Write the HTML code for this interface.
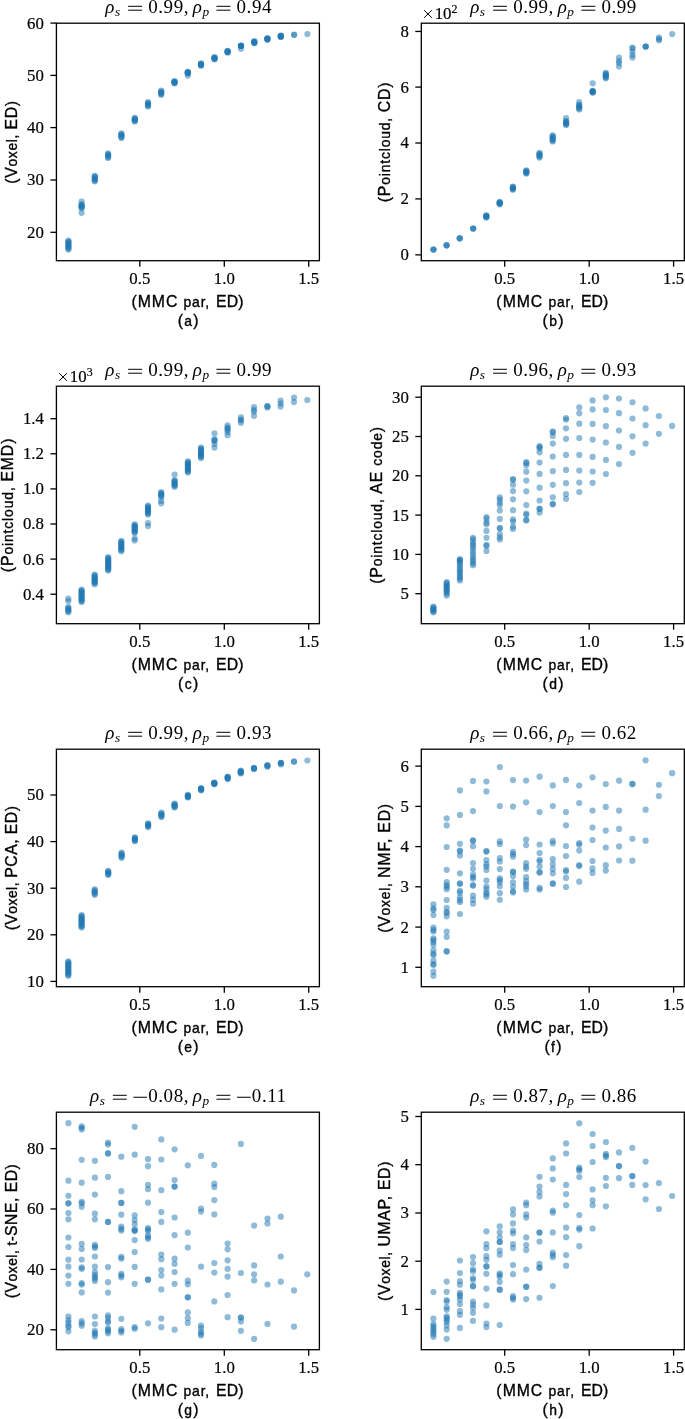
<!DOCTYPE html><html><head><meta charset="utf-8"><style>html,body{margin:0;padding:0;background:#fff;}svg{display:block;will-change:transform}.t{font-family:"Liberation Serif",serif;font-size:16.8px;fill:#000;stroke:#000;stroke-width:0.2px}.l{font-family:"Liberation Sans",sans-serif;font-size:16.5px;fill:#000;stroke:#000;stroke-width:0.35px}.ti{font-family:"Liberation Serif",serif;font-size:19.0px;fill:#000}.i{font-style:italic}</style></head><body>
<svg width="685" height="1419" viewBox="0 0 685 1419">
<rect width="685" height="1419" fill="#fff"/>
<g fill="#1f77b4" fill-opacity="0.5">
<circle cx="68.4" cy="240.6" r="3.1"/>
<circle cx="68.4" cy="241.6" r="3.1"/>
<circle cx="68.4" cy="242.6" r="3.1"/>
<circle cx="68.4" cy="243.6" r="3.1"/>
<circle cx="68.4" cy="244.6" r="3.1"/>
<circle cx="68.4" cy="245.6" r="3.1"/>
<circle cx="68.4" cy="246.6" r="3.1"/>
<circle cx="68.4" cy="247.6" r="3.1"/>
<circle cx="68.4" cy="248.6" r="3.1"/>
<circle cx="68.4" cy="249.6" r="3.1"/>
<circle cx="81.6" cy="201.5" r="3.1"/>
<circle cx="81.6" cy="204.4" r="3.1"/>
<circle cx="81.6" cy="205.1" r="3.1"/>
<circle cx="81.6" cy="205.9" r="3.1"/>
<circle cx="81.6" cy="206.6" r="3.1"/>
<circle cx="81.6" cy="207.4" r="3.1"/>
<circle cx="81.6" cy="208.1" r="3.1"/>
<circle cx="81.6" cy="212.8" r="3.1"/>
<circle cx="94.8" cy="175.8" r="3.1"/>
<circle cx="94.8" cy="176.7" r="3.1"/>
<circle cx="94.8" cy="177.6" r="3.1"/>
<circle cx="94.8" cy="178.6" r="3.1"/>
<circle cx="94.8" cy="179.5" r="3.1"/>
<circle cx="94.8" cy="180.4" r="3.1"/>
<circle cx="94.8" cy="181.3" r="3.1"/>
<circle cx="108.1" cy="153.4" r="3.1"/>
<circle cx="108.1" cy="154.3" r="3.1"/>
<circle cx="108.1" cy="155.2" r="3.1"/>
<circle cx="108.1" cy="156.1" r="3.1"/>
<circle cx="108.1" cy="157.0" r="3.1"/>
<circle cx="108.1" cy="157.9" r="3.1"/>
<circle cx="121.4" cy="133.4" r="3.1"/>
<circle cx="121.4" cy="134.3" r="3.1"/>
<circle cx="121.4" cy="135.2" r="3.1"/>
<circle cx="121.4" cy="136.2" r="3.1"/>
<circle cx="121.4" cy="137.1" r="3.1"/>
<circle cx="121.4" cy="138.0" r="3.1"/>
<circle cx="134.8" cy="117.9" r="3.1"/>
<circle cx="134.8" cy="118.6" r="3.1"/>
<circle cx="134.8" cy="119.3" r="3.1"/>
<circle cx="134.8" cy="120.0" r="3.1"/>
<circle cx="134.8" cy="120.7" r="3.1"/>
<circle cx="134.8" cy="121.4" r="3.1"/>
<circle cx="148.0" cy="102.2" r="3.1"/>
<circle cx="148.0" cy="103.1" r="3.1"/>
<circle cx="148.0" cy="103.9" r="3.1"/>
<circle cx="148.0" cy="104.8" r="3.1"/>
<circle cx="148.0" cy="105.6" r="3.1"/>
<circle cx="148.0" cy="106.5" r="3.1"/>
<circle cx="161.2" cy="90.7" r="3.1"/>
<circle cx="161.2" cy="91.5" r="3.1"/>
<circle cx="161.2" cy="92.3" r="3.1"/>
<circle cx="161.2" cy="93.2" r="3.1"/>
<circle cx="161.2" cy="94.0" r="3.1"/>
<circle cx="161.2" cy="94.8" r="3.1"/>
<circle cx="174.5" cy="81.1" r="3.1"/>
<circle cx="174.5" cy="81.5" r="3.1"/>
<circle cx="174.5" cy="82.0" r="3.1"/>
<circle cx="174.5" cy="82.4" r="3.1"/>
<circle cx="174.5" cy="82.9" r="3.1"/>
<circle cx="174.5" cy="83.3" r="3.1"/>
<circle cx="187.8" cy="71.9" r="3.1"/>
<circle cx="187.8" cy="72.2" r="3.1"/>
<circle cx="187.8" cy="72.5" r="3.1"/>
<circle cx="187.8" cy="72.7" r="3.1"/>
<circle cx="187.8" cy="73.0" r="3.1"/>
<circle cx="187.8" cy="73.3" r="3.1"/>
<circle cx="187.8" cy="75.6" r="3.1"/>
<circle cx="201.0" cy="63.4" r="3.1"/>
<circle cx="201.0" cy="63.9" r="3.1"/>
<circle cx="201.0" cy="64.3" r="3.1"/>
<circle cx="201.0" cy="64.8" r="3.1"/>
<circle cx="201.0" cy="65.2" r="3.1"/>
<circle cx="201.0" cy="65.7" r="3.1"/>
<circle cx="214.5" cy="57.1" r="3.1"/>
<circle cx="214.5" cy="57.5" r="3.1"/>
<circle cx="214.5" cy="58.0" r="3.1"/>
<circle cx="214.5" cy="58.4" r="3.1"/>
<circle cx="214.5" cy="58.9" r="3.1"/>
<circle cx="214.5" cy="59.3" r="3.1"/>
<circle cx="227.6" cy="50.9" r="3.1"/>
<circle cx="227.6" cy="51.2" r="3.1"/>
<circle cx="227.6" cy="51.5" r="3.1"/>
<circle cx="227.6" cy="51.9" r="3.1"/>
<circle cx="227.6" cy="52.2" r="3.1"/>
<circle cx="227.6" cy="52.5" r="3.1"/>
<circle cx="241.0" cy="45.8" r="3.1"/>
<circle cx="241.0" cy="45.8" r="3.1"/>
<circle cx="241.0" cy="45.8" r="3.1"/>
<circle cx="241.0" cy="45.8" r="3.1"/>
<circle cx="241.0" cy="45.8" r="3.1"/>
<circle cx="241.0" cy="45.8" r="3.1"/>
<circle cx="241.0" cy="48.8" r="3.1"/>
<circle cx="254.3" cy="41.2" r="3.1"/>
<circle cx="254.3" cy="41.6" r="3.1"/>
<circle cx="254.3" cy="42.0" r="3.1"/>
<circle cx="254.3" cy="42.4" r="3.1"/>
<circle cx="254.3" cy="42.8" r="3.1"/>
<circle cx="254.3" cy="43.2" r="3.1"/>
<circle cx="267.4" cy="38.2" r="3.1"/>
<circle cx="267.4" cy="38.5" r="3.1"/>
<circle cx="267.4" cy="38.8" r="3.1"/>
<circle cx="267.4" cy="39.1" r="3.1"/>
<circle cx="267.4" cy="39.4" r="3.1"/>
<circle cx="267.4" cy="39.7" r="3.1"/>
<circle cx="280.8" cy="35.7" r="3.1"/>
<circle cx="280.8" cy="35.9" r="3.1"/>
<circle cx="280.8" cy="36.2" r="3.1"/>
<circle cx="280.8" cy="36.4" r="3.1"/>
<circle cx="280.8" cy="36.7" r="3.1"/>
<circle cx="280.8" cy="36.9" r="3.1"/>
<circle cx="294.1" cy="34.6" r="3.1"/>
<circle cx="294.1" cy="35.0" r="3.1"/>
<circle cx="307.4" cy="34.1" r="3.1"/>
</g>
<rect x="56.40" y="23.20" width="263.00" height="237.50" fill="none" stroke="#000" stroke-width="1.3"/>
<line x1="139.80" y1="260.70" x2="139.80" y2="266.70" stroke="#000" stroke-width="1.3"/>
<text class="t" x="139.80" y="284.20" text-anchor="middle">0.5</text>
<line x1="224.30" y1="260.70" x2="224.30" y2="266.70" stroke="#000" stroke-width="1.3"/>
<text class="t" x="224.30" y="284.20" text-anchor="middle">1.0</text>
<line x1="308.70" y1="260.70" x2="308.70" y2="266.70" stroke="#000" stroke-width="1.3"/>
<text class="t" x="308.70" y="284.20" text-anchor="middle">1.5</text>
<line x1="50.40" y1="232.30" x2="56.40" y2="232.30" stroke="#000" stroke-width="1.3"/>
<text class="t" x="43.90" y="237.70" text-anchor="end">20</text>
<line x1="50.40" y1="180.00" x2="56.40" y2="180.00" stroke="#000" stroke-width="1.3"/>
<text class="t" x="43.90" y="185.40" text-anchor="end">30</text>
<line x1="50.40" y1="127.60" x2="56.40" y2="127.60" stroke="#000" stroke-width="1.3"/>
<text class="t" x="43.90" y="133.00" text-anchor="end">40</text>
<line x1="50.40" y1="75.40" x2="56.40" y2="75.40" stroke="#000" stroke-width="1.3"/>
<text class="t" x="43.90" y="80.80" text-anchor="end">50</text>
<line x1="50.40" y1="23.10" x2="56.40" y2="23.10" stroke="#000" stroke-width="1.3"/>
<text class="t" x="43.90" y="28.50" text-anchor="end">60</text>
<text class="l" y="306.60"><tspan x="131.40" style="font-size:15.8px">(</tspan><tspan x="137.80" style="font-size:15.8px" letter-spacing="0.9">MMC</tspan><tspan x="183.60" style="font-size:13.9px" letter-spacing="0.8">par,</tspan><tspan x="216.00" style="font-size:15.8px" letter-spacing="0.1">ED)</tspan></text>
<text class="l" x="188.80" y="325.60" text-anchor="middle" letter-spacing="1.3"><tspan style="font-size:15.8px">(</tspan><tspan style="font-size:13.9px">a</tspan><tspan style="font-size:15.8px">)</tspan></text>
<text class="l" transform="translate(12.00,141.95) rotate(-90)" x="0" y="5.2" text-anchor="middle" letter-spacing="0.66"><tspan style="font-size:15.8px">(V</tspan><tspan style="font-size:13.9px">oxel, </tspan><tspan style="font-size:15.8px">ED)</tspan></text>
<text class="ti i" x="105.25" y="13.30">ρ</text><text class="ti i" style="font-size:13.3px" x="114.95" y="16.30">s</text><path d="M128.15 6.30H142.05M128.15 10.20H142.05" stroke="#000" stroke-width="1.0"/><text class="ti" x="148.25" y="13.30" letter-spacing="0.55">0.99,</text><text class="ti i" x="192.75" y="13.30">ρ</text><text class="ti i" style="font-size:13.3px" x="202.45" y="16.30">p</text><path d="M216.45 6.30H230.35M216.45 10.20H230.35" stroke="#000" stroke-width="1.0"/><text class="ti" x="236.55" y="13.30" letter-spacing="0.55">0.94</text>
<g fill="#1f77b4" fill-opacity="0.5">
<circle cx="433.5" cy="249.5" r="3.1"/>
<circle cx="433.5" cy="249.5" r="3.1"/>
<circle cx="433.5" cy="249.5" r="3.1"/>
<circle cx="446.6" cy="245.3" r="3.1"/>
<circle cx="446.6" cy="245.3" r="3.1"/>
<circle cx="446.6" cy="245.3" r="3.1"/>
<circle cx="459.7" cy="238.3" r="3.1"/>
<circle cx="459.7" cy="238.3" r="3.1"/>
<circle cx="459.7" cy="238.3" r="3.1"/>
<circle cx="473.2" cy="228.5" r="3.1"/>
<circle cx="473.2" cy="228.5" r="3.1"/>
<circle cx="473.2" cy="228.5" r="3.1"/>
<circle cx="486.3" cy="215.4" r="3.1"/>
<circle cx="486.3" cy="215.8" r="3.1"/>
<circle cx="486.3" cy="216.2" r="3.1"/>
<circle cx="486.3" cy="216.7" r="3.1"/>
<circle cx="486.3" cy="217.1" r="3.1"/>
<circle cx="486.3" cy="217.5" r="3.1"/>
<circle cx="499.7" cy="201.8" r="3.1"/>
<circle cx="499.7" cy="202.3" r="3.1"/>
<circle cx="499.7" cy="202.8" r="3.1"/>
<circle cx="499.7" cy="203.3" r="3.1"/>
<circle cx="499.7" cy="203.8" r="3.1"/>
<circle cx="499.7" cy="204.3" r="3.1"/>
<circle cx="512.9" cy="186.6" r="3.1"/>
<circle cx="512.9" cy="187.2" r="3.1"/>
<circle cx="512.9" cy="187.8" r="3.1"/>
<circle cx="512.9" cy="188.5" r="3.1"/>
<circle cx="512.9" cy="189.1" r="3.1"/>
<circle cx="512.9" cy="189.7" r="3.1"/>
<circle cx="526.3" cy="170.3" r="3.1"/>
<circle cx="526.3" cy="171.0" r="3.1"/>
<circle cx="526.3" cy="171.6" r="3.1"/>
<circle cx="526.3" cy="172.3" r="3.1"/>
<circle cx="526.3" cy="172.9" r="3.1"/>
<circle cx="526.3" cy="173.6" r="3.1"/>
<circle cx="539.5" cy="152.8" r="3.1"/>
<circle cx="539.5" cy="153.8" r="3.1"/>
<circle cx="539.5" cy="154.7" r="3.1"/>
<circle cx="539.5" cy="155.7" r="3.1"/>
<circle cx="539.5" cy="156.6" r="3.1"/>
<circle cx="539.5" cy="157.6" r="3.1"/>
<circle cx="552.7" cy="135.3" r="3.1"/>
<circle cx="552.7" cy="136.3" r="3.1"/>
<circle cx="552.7" cy="137.4" r="3.1"/>
<circle cx="552.7" cy="138.4" r="3.1"/>
<circle cx="552.7" cy="139.4" r="3.1"/>
<circle cx="552.7" cy="140.5" r="3.1"/>
<circle cx="552.7" cy="141.5" r="3.1"/>
<circle cx="566.1" cy="118.1" r="3.1"/>
<circle cx="566.1" cy="121.1" r="3.1"/>
<circle cx="566.1" cy="121.9" r="3.1"/>
<circle cx="566.1" cy="122.7" r="3.1"/>
<circle cx="566.1" cy="123.4" r="3.1"/>
<circle cx="566.1" cy="124.2" r="3.1"/>
<circle cx="566.1" cy="125.0" r="3.1"/>
<circle cx="579.2" cy="102.0" r="3.1"/>
<circle cx="579.2" cy="104.6" r="3.1"/>
<circle cx="579.2" cy="105.6" r="3.1"/>
<circle cx="579.2" cy="106.5" r="3.1"/>
<circle cx="579.2" cy="107.5" r="3.1"/>
<circle cx="579.2" cy="108.4" r="3.1"/>
<circle cx="579.2" cy="109.4" r="3.1"/>
<circle cx="592.7" cy="83.3" r="3.1"/>
<circle cx="592.7" cy="90.8" r="3.1"/>
<circle cx="592.7" cy="91.2" r="3.1"/>
<circle cx="592.7" cy="91.5" r="3.1"/>
<circle cx="592.7" cy="91.9" r="3.1"/>
<circle cx="592.7" cy="92.2" r="3.1"/>
<circle cx="592.7" cy="92.6" r="3.1"/>
<circle cx="605.8" cy="72.8" r="3.1"/>
<circle cx="605.8" cy="73.7" r="3.1"/>
<circle cx="605.8" cy="74.6" r="3.1"/>
<circle cx="605.8" cy="75.6" r="3.1"/>
<circle cx="605.8" cy="76.5" r="3.1"/>
<circle cx="605.8" cy="77.4" r="3.1"/>
<circle cx="605.8" cy="78.3" r="3.1"/>
<circle cx="619.0" cy="57.5" r="3.1"/>
<circle cx="619.0" cy="61.0" r="3.1"/>
<circle cx="619.0" cy="63.0" r="3.1"/>
<circle cx="619.0" cy="66.5" r="3.1"/>
<circle cx="632.5" cy="47.5" r="3.1"/>
<circle cx="632.5" cy="48.5" r="3.1"/>
<circle cx="632.5" cy="51.8" r="3.1"/>
<circle cx="632.5" cy="55.0" r="3.1"/>
<circle cx="632.5" cy="57.6" r="3.1"/>
<circle cx="645.7" cy="46.5" r="3.1"/>
<circle cx="645.7" cy="46.5" r="3.1"/>
<circle cx="645.7" cy="46.5" r="3.1"/>
<circle cx="659.0" cy="37.5" r="3.1"/>
<circle cx="659.0" cy="39.0" r="3.1"/>
<circle cx="659.0" cy="40.3" r="3.1"/>
<circle cx="672.2" cy="34.1" r="3.1"/>
</g>
<rect x="421.30" y="23.20" width="263.00" height="237.50" fill="none" stroke="#000" stroke-width="1.3"/>
<line x1="504.70" y1="260.70" x2="504.70" y2="266.70" stroke="#000" stroke-width="1.3"/>
<text class="t" x="504.70" y="284.20" text-anchor="middle">0.5</text>
<line x1="589.20" y1="260.70" x2="589.20" y2="266.70" stroke="#000" stroke-width="1.3"/>
<text class="t" x="589.20" y="284.20" text-anchor="middle">1.0</text>
<line x1="673.60" y1="260.70" x2="673.60" y2="266.70" stroke="#000" stroke-width="1.3"/>
<text class="t" x="673.60" y="284.20" text-anchor="middle">1.5</text>
<line x1="415.30" y1="254.85" x2="421.30" y2="254.85" stroke="#000" stroke-width="1.3"/>
<text class="t" x="408.80" y="260.25" text-anchor="end">0</text>
<line x1="415.30" y1="198.90" x2="421.30" y2="198.90" stroke="#000" stroke-width="1.3"/>
<text class="t" x="408.80" y="204.30" text-anchor="end">2</text>
<line x1="415.30" y1="143.00" x2="421.30" y2="143.00" stroke="#000" stroke-width="1.3"/>
<text class="t" x="408.80" y="148.40" text-anchor="end">4</text>
<line x1="415.30" y1="87.10" x2="421.30" y2="87.10" stroke="#000" stroke-width="1.3"/>
<text class="t" x="408.80" y="92.50" text-anchor="end">6</text>
<line x1="415.30" y1="31.45" x2="421.30" y2="31.45" stroke="#000" stroke-width="1.3"/>
<text class="t" x="408.80" y="36.85" text-anchor="end">8</text>
<text class="l" y="306.60"><tspan x="496.30" style="font-size:15.8px">(</tspan><tspan x="502.70" style="font-size:15.8px" letter-spacing="0.9">MMC</tspan><tspan x="548.50" style="font-size:13.9px" letter-spacing="0.8">par,</tspan><tspan x="580.90" style="font-size:15.8px" letter-spacing="0.1">ED)</tspan></text>
<text class="l" x="553.70" y="325.60" text-anchor="middle" letter-spacing="1.3"><tspan style="font-size:15.8px">(</tspan><tspan style="font-size:13.9px">b</tspan><tspan style="font-size:15.8px">)</tspan></text>
<text class="l" transform="translate(384.60,141.95) rotate(-90)" x="0" y="5.2" text-anchor="middle" letter-spacing="0.84"><tspan style="font-size:15.8px">(P</tspan><tspan style="font-size:13.9px">ointcloud, </tspan><tspan style="font-size:15.8px">CD)</tspan></text>
<text class="ti i" x="470.15" y="13.30">ρ</text><text class="ti i" style="font-size:13.3px" x="479.85" y="16.30">s</text><path d="M493.05 6.30H506.95M493.05 10.20H506.95" stroke="#000" stroke-width="1.0"/><text class="ti" x="513.15" y="13.30" letter-spacing="0.55">0.99,</text><text class="ti i" x="557.65" y="13.30">ρ</text><text class="ti i" style="font-size:13.3px" x="567.35" y="16.30">p</text><path d="M581.35 6.30H595.25M581.35 10.20H595.25" stroke="#000" stroke-width="1.0"/><text class="ti" x="601.45" y="13.30" letter-spacing="0.55">0.99</text>
<path d="M424.10 10.20L431.80 17.80M431.80 10.20L424.10 17.80" stroke="#000" stroke-width="1.0" fill="none"/>
<text class="t" x="434.70" y="18.60">10</text>
<text class="t" style="font-size:12px" x="451.60" y="12.60">2</text>
<g fill="#1f77b4" fill-opacity="0.5">
<circle cx="68.3" cy="598.7" r="3.1"/>
<circle cx="68.3" cy="601.0" r="3.1"/>
<circle cx="68.3" cy="607.1" r="3.1"/>
<circle cx="68.3" cy="608.1" r="3.1"/>
<circle cx="68.3" cy="609.1" r="3.1"/>
<circle cx="68.3" cy="610.2" r="3.1"/>
<circle cx="68.3" cy="611.2" r="3.1"/>
<circle cx="68.3" cy="612.2" r="3.1"/>
<circle cx="81.6" cy="589.5" r="3.1"/>
<circle cx="81.6" cy="590.5" r="3.1"/>
<circle cx="81.6" cy="591.6" r="3.1"/>
<circle cx="81.6" cy="592.6" r="3.1"/>
<circle cx="81.6" cy="593.7" r="3.1"/>
<circle cx="81.6" cy="594.7" r="3.1"/>
<circle cx="81.6" cy="595.8" r="3.1"/>
<circle cx="81.6" cy="596.8" r="3.1"/>
<circle cx="81.6" cy="597.8" r="3.1"/>
<circle cx="81.6" cy="598.9" r="3.1"/>
<circle cx="81.6" cy="599.9" r="3.1"/>
<circle cx="81.6" cy="601.0" r="3.1"/>
<circle cx="81.6" cy="602.0" r="3.1"/>
<circle cx="94.7" cy="574.6" r="3.1"/>
<circle cx="94.7" cy="575.6" r="3.1"/>
<circle cx="94.7" cy="576.5" r="3.1"/>
<circle cx="94.7" cy="577.5" r="3.1"/>
<circle cx="94.7" cy="578.4" r="3.1"/>
<circle cx="94.7" cy="579.4" r="3.1"/>
<circle cx="94.7" cy="580.4" r="3.1"/>
<circle cx="94.7" cy="581.3" r="3.1"/>
<circle cx="94.7" cy="582.3" r="3.1"/>
<circle cx="94.7" cy="583.2" r="3.1"/>
<circle cx="94.7" cy="584.2" r="3.1"/>
<circle cx="108.2" cy="557.1" r="3.1"/>
<circle cx="108.2" cy="558.1" r="3.1"/>
<circle cx="108.2" cy="559.0" r="3.1"/>
<circle cx="108.2" cy="560.0" r="3.1"/>
<circle cx="108.2" cy="561.0" r="3.1"/>
<circle cx="108.2" cy="561.9" r="3.1"/>
<circle cx="108.2" cy="562.9" r="3.1"/>
<circle cx="108.2" cy="563.9" r="3.1"/>
<circle cx="108.2" cy="564.8" r="3.1"/>
<circle cx="108.2" cy="565.8" r="3.1"/>
<circle cx="108.2" cy="566.7" r="3.1"/>
<circle cx="108.2" cy="567.7" r="3.1"/>
<circle cx="108.2" cy="568.7" r="3.1"/>
<circle cx="108.2" cy="569.6" r="3.1"/>
<circle cx="108.2" cy="570.6" r="3.1"/>
<circle cx="121.3" cy="540.8" r="3.1"/>
<circle cx="121.3" cy="541.8" r="3.1"/>
<circle cx="121.3" cy="542.9" r="3.1"/>
<circle cx="121.3" cy="543.9" r="3.1"/>
<circle cx="121.3" cy="545.0" r="3.1"/>
<circle cx="121.3" cy="546.0" r="3.1"/>
<circle cx="121.3" cy="547.0" r="3.1"/>
<circle cx="121.3" cy="548.1" r="3.1"/>
<circle cx="121.3" cy="549.1" r="3.1"/>
<circle cx="121.3" cy="550.2" r="3.1"/>
<circle cx="121.3" cy="551.2" r="3.1"/>
<circle cx="134.7" cy="524.3" r="3.1"/>
<circle cx="134.7" cy="525.3" r="3.1"/>
<circle cx="134.7" cy="526.2" r="3.1"/>
<circle cx="134.7" cy="527.2" r="3.1"/>
<circle cx="134.7" cy="528.1" r="3.1"/>
<circle cx="134.7" cy="529.1" r="3.1"/>
<circle cx="134.7" cy="530.0" r="3.1"/>
<circle cx="134.7" cy="531.0" r="3.1"/>
<circle cx="134.7" cy="531.9" r="3.1"/>
<circle cx="134.7" cy="532.9" r="3.1"/>
<circle cx="134.7" cy="538.5" r="3.1"/>
<circle cx="134.7" cy="540.4" r="3.1"/>
<circle cx="148.0" cy="505.6" r="3.1"/>
<circle cx="148.0" cy="506.6" r="3.1"/>
<circle cx="148.0" cy="507.6" r="3.1"/>
<circle cx="148.0" cy="508.5" r="3.1"/>
<circle cx="148.0" cy="509.5" r="3.1"/>
<circle cx="148.0" cy="510.5" r="3.1"/>
<circle cx="148.0" cy="511.5" r="3.1"/>
<circle cx="148.0" cy="512.4" r="3.1"/>
<circle cx="148.0" cy="513.4" r="3.1"/>
<circle cx="148.0" cy="514.4" r="3.1"/>
<circle cx="148.0" cy="523.0" r="3.1"/>
<circle cx="148.0" cy="526.1" r="3.1"/>
<circle cx="161.2" cy="492.0" r="3.1"/>
<circle cx="161.2" cy="493.0" r="3.1"/>
<circle cx="161.2" cy="494.0" r="3.1"/>
<circle cx="161.2" cy="494.9" r="3.1"/>
<circle cx="161.2" cy="495.9" r="3.1"/>
<circle cx="161.2" cy="496.9" r="3.1"/>
<circle cx="161.2" cy="501.0" r="3.1"/>
<circle cx="161.2" cy="503.3" r="3.1"/>
<circle cx="174.6" cy="474.5" r="3.1"/>
<circle cx="174.6" cy="480.0" r="3.1"/>
<circle cx="174.6" cy="481.0" r="3.1"/>
<circle cx="174.6" cy="481.9" r="3.1"/>
<circle cx="174.6" cy="482.9" r="3.1"/>
<circle cx="174.6" cy="483.8" r="3.1"/>
<circle cx="174.6" cy="484.8" r="3.1"/>
<circle cx="174.6" cy="485.7" r="3.1"/>
<circle cx="174.6" cy="486.7" r="3.1"/>
<circle cx="187.9" cy="461.3" r="3.1"/>
<circle cx="187.9" cy="462.3" r="3.1"/>
<circle cx="187.9" cy="463.3" r="3.1"/>
<circle cx="187.9" cy="464.3" r="3.1"/>
<circle cx="187.9" cy="465.3" r="3.1"/>
<circle cx="187.9" cy="466.3" r="3.1"/>
<circle cx="187.9" cy="467.4" r="3.1"/>
<circle cx="187.9" cy="468.4" r="3.1"/>
<circle cx="187.9" cy="469.4" r="3.1"/>
<circle cx="187.9" cy="470.4" r="3.1"/>
<circle cx="187.9" cy="471.4" r="3.1"/>
<circle cx="187.9" cy="472.4" r="3.1"/>
<circle cx="201.0" cy="447.6" r="3.1"/>
<circle cx="201.0" cy="448.7" r="3.1"/>
<circle cx="201.0" cy="449.7" r="3.1"/>
<circle cx="201.0" cy="450.8" r="3.1"/>
<circle cx="201.0" cy="451.8" r="3.1"/>
<circle cx="201.0" cy="452.9" r="3.1"/>
<circle cx="201.0" cy="453.9" r="3.1"/>
<circle cx="201.0" cy="454.9" r="3.1"/>
<circle cx="201.0" cy="456.0" r="3.1"/>
<circle cx="201.0" cy="457.0" r="3.1"/>
<circle cx="201.0" cy="458.1" r="3.1"/>
<circle cx="214.5" cy="433.3" r="3.1"/>
<circle cx="214.5" cy="439.1" r="3.1"/>
<circle cx="214.5" cy="440.1" r="3.1"/>
<circle cx="214.5" cy="441.0" r="3.1"/>
<circle cx="214.5" cy="444.0" r="3.1"/>
<circle cx="214.5" cy="447.6" r="3.1"/>
<circle cx="227.6" cy="425.3" r="3.1"/>
<circle cx="227.6" cy="427.5" r="3.1"/>
<circle cx="227.6" cy="428.7" r="3.1"/>
<circle cx="227.6" cy="429.9" r="3.1"/>
<circle cx="227.6" cy="432.0" r="3.1"/>
<circle cx="227.6" cy="435.2" r="3.1"/>
<circle cx="240.9" cy="417.3" r="3.1"/>
<circle cx="240.9" cy="419.5" r="3.1"/>
<circle cx="240.9" cy="420.5" r="3.1"/>
<circle cx="240.9" cy="422.8" r="3.1"/>
<circle cx="254.0" cy="407.1" r="3.1"/>
<circle cx="254.0" cy="410.0" r="3.1"/>
<circle cx="254.0" cy="411.5" r="3.1"/>
<circle cx="254.0" cy="415.8" r="3.1"/>
<circle cx="267.4" cy="405.8" r="3.1"/>
<circle cx="267.4" cy="406.6" r="3.1"/>
<circle cx="267.4" cy="407.4" r="3.1"/>
<circle cx="280.6" cy="400.5" r="3.1"/>
<circle cx="280.6" cy="403.5" r="3.1"/>
<circle cx="280.6" cy="406.4" r="3.1"/>
<circle cx="294.0" cy="397.6" r="3.1"/>
<circle cx="294.0" cy="402.0" r="3.1"/>
<circle cx="307.3" cy="400.0" r="3.1"/>
</g>
<rect x="56.40" y="386.20" width="263.00" height="237.50" fill="none" stroke="#000" stroke-width="1.3"/>
<line x1="139.80" y1="623.70" x2="139.80" y2="629.70" stroke="#000" stroke-width="1.3"/>
<text class="t" x="139.80" y="647.20" text-anchor="middle">0.5</text>
<line x1="224.30" y1="623.70" x2="224.30" y2="629.70" stroke="#000" stroke-width="1.3"/>
<text class="t" x="224.30" y="647.20" text-anchor="middle">1.0</text>
<line x1="308.70" y1="623.70" x2="308.70" y2="629.70" stroke="#000" stroke-width="1.3"/>
<text class="t" x="308.70" y="647.20" text-anchor="middle">1.5</text>
<line x1="50.40" y1="594.20" x2="56.40" y2="594.20" stroke="#000" stroke-width="1.3"/>
<text class="t" x="43.90" y="599.60" text-anchor="end">0.4</text>
<line x1="50.40" y1="559.10" x2="56.40" y2="559.10" stroke="#000" stroke-width="1.3"/>
<text class="t" x="43.90" y="564.50" text-anchor="end">0.6</text>
<line x1="50.40" y1="524.00" x2="56.40" y2="524.00" stroke="#000" stroke-width="1.3"/>
<text class="t" x="43.90" y="529.40" text-anchor="end">0.8</text>
<line x1="50.40" y1="488.90" x2="56.40" y2="488.90" stroke="#000" stroke-width="1.3"/>
<text class="t" x="43.90" y="494.30" text-anchor="end">1.0</text>
<line x1="50.40" y1="453.80" x2="56.40" y2="453.80" stroke="#000" stroke-width="1.3"/>
<text class="t" x="43.90" y="459.20" text-anchor="end">1.2</text>
<line x1="50.40" y1="418.70" x2="56.40" y2="418.70" stroke="#000" stroke-width="1.3"/>
<text class="t" x="43.90" y="424.10" text-anchor="end">1.4</text>
<text class="l" y="669.60"><tspan x="131.40" style="font-size:15.8px">(</tspan><tspan x="137.80" style="font-size:15.8px" letter-spacing="0.9">MMC</tspan><tspan x="183.60" style="font-size:13.9px" letter-spacing="0.8">par,</tspan><tspan x="216.00" style="font-size:15.8px" letter-spacing="0.1">ED)</tspan></text>
<text class="l" x="188.80" y="688.60" text-anchor="middle" letter-spacing="1.3"><tspan style="font-size:15.8px">(</tspan><tspan style="font-size:13.9px">c</tspan><tspan style="font-size:15.8px">)</tspan></text>
<text class="l" transform="translate(8.10,504.95) rotate(-90)" x="0" y="5.2" text-anchor="middle" letter-spacing="0.88"><tspan style="font-size:15.8px">(P</tspan><tspan style="font-size:13.9px">ointcloud, </tspan><tspan style="font-size:15.8px">EMD)</tspan></text>
<text class="ti i" x="105.25" y="376.30">ρ</text><text class="ti i" style="font-size:13.3px" x="114.95" y="379.30">s</text><path d="M128.15 369.30H142.05M128.15 373.20H142.05" stroke="#000" stroke-width="1.0"/><text class="ti" x="148.25" y="376.30" letter-spacing="0.55">0.99,</text><text class="ti i" x="192.75" y="376.30">ρ</text><text class="ti i" style="font-size:13.3px" x="202.45" y="379.30">p</text><path d="M216.45 369.30H230.35M216.45 373.20H230.35" stroke="#000" stroke-width="1.0"/><text class="ti" x="236.55" y="376.30" letter-spacing="0.55">0.99</text>
<path d="M59.20 373.20L66.90 380.80M66.90 373.20L59.20 380.80" stroke="#000" stroke-width="1.0" fill="none"/>
<text class="t" x="69.80" y="381.60">10</text>
<text class="t" style="font-size:12px" x="86.70" y="375.60">3</text>
<g fill="#1f77b4" fill-opacity="0.5">
<circle cx="433.4" cy="606.7" r="3.1"/>
<circle cx="433.4" cy="607.7" r="3.1"/>
<circle cx="433.4" cy="608.6" r="3.1"/>
<circle cx="433.4" cy="609.6" r="3.1"/>
<circle cx="433.4" cy="610.5" r="3.1"/>
<circle cx="433.4" cy="611.4" r="3.1"/>
<circle cx="433.4" cy="612.3" r="3.1"/>
<circle cx="446.7" cy="582.0" r="3.1"/>
<circle cx="446.7" cy="583.2" r="3.1"/>
<circle cx="446.7" cy="584.5" r="3.1"/>
<circle cx="446.7" cy="585.8" r="3.1"/>
<circle cx="446.7" cy="587.0" r="3.1"/>
<circle cx="446.7" cy="588.2" r="3.1"/>
<circle cx="446.7" cy="589.5" r="3.1"/>
<circle cx="446.7" cy="590.8" r="3.1"/>
<circle cx="446.7" cy="592.0" r="3.1"/>
<circle cx="446.7" cy="593.6" r="3.1"/>
<circle cx="446.7" cy="595.4" r="3.1"/>
<circle cx="459.9" cy="565.5" r="3.1"/>
<circle cx="459.9" cy="569.5" r="3.1"/>
<circle cx="459.9" cy="573.0" r="3.1"/>
<circle cx="459.9" cy="577.0" r="3.1"/>
<circle cx="459.9" cy="559.0" r="3.1"/>
<circle cx="459.9" cy="560.0" r="3.1"/>
<circle cx="459.9" cy="560.5" r="3.1"/>
<circle cx="459.9" cy="561.8" r="3.1"/>
<circle cx="459.9" cy="563.4" r="3.1"/>
<circle cx="459.9" cy="567.8" r="3.1"/>
<circle cx="459.9" cy="571.4" r="3.1"/>
<circle cx="459.9" cy="575.1" r="3.1"/>
<circle cx="459.9" cy="578.7" r="3.1"/>
<circle cx="459.9" cy="580.5" r="3.1"/>
<circle cx="473.0" cy="542.0" r="3.1"/>
<circle cx="473.0" cy="548.5" r="3.1"/>
<circle cx="473.0" cy="554.0" r="3.1"/>
<circle cx="473.0" cy="559.0" r="3.1"/>
<circle cx="473.0" cy="537.8" r="3.1"/>
<circle cx="473.0" cy="539.3" r="3.1"/>
<circle cx="473.0" cy="544.4" r="3.1"/>
<circle cx="473.0" cy="545.9" r="3.1"/>
<circle cx="473.0" cy="551.4" r="3.1"/>
<circle cx="473.0" cy="556.8" r="3.1"/>
<circle cx="473.0" cy="561.2" r="3.1"/>
<circle cx="473.0" cy="563.4" r="3.1"/>
<circle cx="473.0" cy="565.2" r="3.1"/>
<circle cx="486.5" cy="517.0" r="3.1"/>
<circle cx="486.5" cy="518.9" r="3.1"/>
<circle cx="486.5" cy="522.5" r="3.1"/>
<circle cx="486.5" cy="524.3" r="3.1"/>
<circle cx="486.5" cy="530.9" r="3.1"/>
<circle cx="486.5" cy="537.8" r="3.1"/>
<circle cx="486.5" cy="544.8" r="3.1"/>
<circle cx="486.5" cy="545.9" r="3.1"/>
<circle cx="486.5" cy="551.0" r="3.1"/>
<circle cx="499.8" cy="497.4" r="3.1"/>
<circle cx="499.8" cy="499.5" r="3.1"/>
<circle cx="499.8" cy="502.6" r="3.1"/>
<circle cx="499.8" cy="505.1" r="3.1"/>
<circle cx="499.8" cy="510.5" r="3.1"/>
<circle cx="499.8" cy="518.9" r="3.1"/>
<circle cx="499.8" cy="527.9" r="3.1"/>
<circle cx="499.8" cy="528.5" r="3.1"/>
<circle cx="499.8" cy="534.2" r="3.1"/>
<circle cx="499.8" cy="537.3" r="3.1"/>
<circle cx="499.8" cy="539.5" r="3.1"/>
<circle cx="513.0" cy="479.0" r="3.1"/>
<circle cx="513.0" cy="479.8" r="3.1"/>
<circle cx="513.0" cy="484.7" r="3.1"/>
<circle cx="513.0" cy="491.1" r="3.1"/>
<circle cx="513.0" cy="499.3" r="3.1"/>
<circle cx="513.0" cy="510.2" r="3.1"/>
<circle cx="513.0" cy="519.4" r="3.1"/>
<circle cx="513.0" cy="521.5" r="3.1"/>
<circle cx="513.0" cy="526.6" r="3.1"/>
<circle cx="513.0" cy="528.9" r="3.1"/>
<circle cx="526.3" cy="462.2" r="3.1"/>
<circle cx="526.3" cy="463.0" r="3.1"/>
<circle cx="526.3" cy="465.3" r="3.1"/>
<circle cx="526.3" cy="471.7" r="3.1"/>
<circle cx="526.3" cy="480.6" r="3.1"/>
<circle cx="526.3" cy="491.3" r="3.1"/>
<circle cx="526.3" cy="505.1" r="3.1"/>
<circle cx="526.3" cy="513.6" r="3.1"/>
<circle cx="526.3" cy="514.8" r="3.1"/>
<circle cx="526.3" cy="519.9" r="3.1"/>
<circle cx="526.3" cy="520.5" r="3.1"/>
<circle cx="539.6" cy="446.1" r="3.1"/>
<circle cx="539.6" cy="447.0" r="3.1"/>
<circle cx="539.6" cy="448.4" r="3.1"/>
<circle cx="539.6" cy="452.3" r="3.1"/>
<circle cx="539.6" cy="462.5" r="3.1"/>
<circle cx="539.6" cy="473.9" r="3.1"/>
<circle cx="539.6" cy="487.7" r="3.1"/>
<circle cx="539.6" cy="500.5" r="3.1"/>
<circle cx="539.6" cy="508.5" r="3.1"/>
<circle cx="539.6" cy="509.0" r="3.1"/>
<circle cx="539.6" cy="512.6" r="3.1"/>
<circle cx="552.8" cy="431.6" r="3.1"/>
<circle cx="552.8" cy="432.2" r="3.1"/>
<circle cx="552.8" cy="436.0" r="3.1"/>
<circle cx="552.8" cy="443.6" r="3.1"/>
<circle cx="552.8" cy="456.6" r="3.1"/>
<circle cx="552.8" cy="471.2" r="3.1"/>
<circle cx="552.8" cy="484.8" r="3.1"/>
<circle cx="552.8" cy="497.3" r="3.1"/>
<circle cx="552.8" cy="503.9" r="3.1"/>
<circle cx="552.8" cy="504.3" r="3.1"/>
<circle cx="566.0" cy="418.1" r="3.1"/>
<circle cx="566.0" cy="419.6" r="3.1"/>
<circle cx="566.0" cy="428.3" r="3.1"/>
<circle cx="566.0" cy="438.8" r="3.1"/>
<circle cx="566.0" cy="454.9" r="3.1"/>
<circle cx="566.0" cy="469.9" r="3.1"/>
<circle cx="566.0" cy="483.2" r="3.1"/>
<circle cx="566.0" cy="494.0" r="3.1"/>
<circle cx="566.0" cy="498.8" r="3.1"/>
<circle cx="579.3" cy="407.4" r="3.1"/>
<circle cx="579.3" cy="413.3" r="3.1"/>
<circle cx="579.3" cy="423.7" r="3.1"/>
<circle cx="579.3" cy="438.0" r="3.1"/>
<circle cx="579.3" cy="454.9" r="3.1"/>
<circle cx="579.3" cy="470.5" r="3.1"/>
<circle cx="579.3" cy="482.5" r="3.1"/>
<circle cx="579.3" cy="492.0" r="3.1"/>
<circle cx="592.6" cy="400.4" r="3.1"/>
<circle cx="592.6" cy="409.4" r="3.1"/>
<circle cx="592.6" cy="423.9" r="3.1"/>
<circle cx="592.6" cy="439.6" r="3.1"/>
<circle cx="592.6" cy="456.9" r="3.1"/>
<circle cx="592.6" cy="471.5" r="3.1"/>
<circle cx="592.6" cy="482.8" r="3.1"/>
<circle cx="605.9" cy="397.3" r="3.1"/>
<circle cx="605.9" cy="410.0" r="3.1"/>
<circle cx="605.9" cy="426.2" r="3.1"/>
<circle cx="605.9" cy="442.5" r="3.1"/>
<circle cx="605.9" cy="459.9" r="3.1"/>
<circle cx="605.9" cy="474.0" r="3.1"/>
<circle cx="619.0" cy="398.5" r="3.1"/>
<circle cx="619.0" cy="413.2" r="3.1"/>
<circle cx="619.0" cy="430.5" r="3.1"/>
<circle cx="619.0" cy="446.9" r="3.1"/>
<circle cx="619.0" cy="464.1" r="3.1"/>
<circle cx="632.5" cy="402.3" r="3.1"/>
<circle cx="632.5" cy="418.5" r="3.1"/>
<circle cx="632.5" cy="436.3" r="3.1"/>
<circle cx="632.5" cy="452.8" r="3.1"/>
<circle cx="645.6" cy="408.4" r="3.1"/>
<circle cx="645.6" cy="425.2" r="3.1"/>
<circle cx="645.6" cy="443.6" r="3.1"/>
<circle cx="658.9" cy="416.0" r="3.1"/>
<circle cx="658.9" cy="433.8" r="3.1"/>
<circle cx="672.1" cy="425.9" r="3.1"/>
</g>
<rect x="421.30" y="386.20" width="263.00" height="237.50" fill="none" stroke="#000" stroke-width="1.3"/>
<line x1="504.70" y1="623.70" x2="504.70" y2="629.70" stroke="#000" stroke-width="1.3"/>
<text class="t" x="504.70" y="647.20" text-anchor="middle">0.5</text>
<line x1="589.20" y1="623.70" x2="589.20" y2="629.70" stroke="#000" stroke-width="1.3"/>
<text class="t" x="589.20" y="647.20" text-anchor="middle">1.0</text>
<line x1="673.60" y1="623.70" x2="673.60" y2="629.70" stroke="#000" stroke-width="1.3"/>
<text class="t" x="673.60" y="647.20" text-anchor="middle">1.5</text>
<line x1="415.30" y1="593.70" x2="421.30" y2="593.70" stroke="#000" stroke-width="1.3"/>
<text class="t" x="408.80" y="599.10" text-anchor="end">5</text>
<line x1="415.30" y1="554.40" x2="421.30" y2="554.40" stroke="#000" stroke-width="1.3"/>
<text class="t" x="408.80" y="559.80" text-anchor="end">10</text>
<line x1="415.30" y1="515.10" x2="421.30" y2="515.10" stroke="#000" stroke-width="1.3"/>
<text class="t" x="408.80" y="520.50" text-anchor="end">15</text>
<line x1="415.30" y1="475.80" x2="421.30" y2="475.80" stroke="#000" stroke-width="1.3"/>
<text class="t" x="408.80" y="481.20" text-anchor="end">20</text>
<line x1="415.30" y1="436.50" x2="421.30" y2="436.50" stroke="#000" stroke-width="1.3"/>
<text class="t" x="408.80" y="441.90" text-anchor="end">25</text>
<line x1="415.30" y1="397.20" x2="421.30" y2="397.20" stroke="#000" stroke-width="1.3"/>
<text class="t" x="408.80" y="402.60" text-anchor="end">30</text>
<text class="l" y="669.60"><tspan x="496.30" style="font-size:15.8px">(</tspan><tspan x="502.70" style="font-size:15.8px" letter-spacing="0.9">MMC</tspan><tspan x="548.50" style="font-size:13.9px" letter-spacing="0.8">par,</tspan><tspan x="580.90" style="font-size:15.8px" letter-spacing="0.1">ED)</tspan></text>
<text class="l" x="553.70" y="688.60" text-anchor="middle" letter-spacing="1.3"><tspan style="font-size:15.8px">(</tspan><tspan style="font-size:13.9px">d</tspan><tspan style="font-size:15.8px">)</tspan></text>
<text class="l" transform="translate(376.60,504.95) rotate(-90)" x="0" y="5.2" text-anchor="middle" letter-spacing="0.85"><tspan style="font-size:15.8px">(P</tspan><tspan style="font-size:13.9px">ointcloud, </tspan><tspan style="font-size:15.8px">AE </tspan><tspan style="font-size:13.9px">code</tspan><tspan style="font-size:15.8px">)</tspan></text>
<text class="ti i" x="470.15" y="376.30">ρ</text><text class="ti i" style="font-size:13.3px" x="479.85" y="379.30">s</text><path d="M493.05 369.30H506.95M493.05 373.20H506.95" stroke="#000" stroke-width="1.0"/><text class="ti" x="513.15" y="376.30" letter-spacing="0.55">0.96,</text><text class="ti i" x="557.65" y="376.30">ρ</text><text class="ti i" style="font-size:13.3px" x="567.35" y="379.30">p</text><path d="M581.35 369.30H595.25M581.35 373.20H595.25" stroke="#000" stroke-width="1.0"/><text class="ti" x="601.45" y="376.30" letter-spacing="0.55">0.93</text>
<g fill="#1f77b4" fill-opacity="0.5">
<circle cx="68.3" cy="961.4" r="3.1"/>
<circle cx="68.3" cy="962.4" r="3.1"/>
<circle cx="68.3" cy="963.4" r="3.1"/>
<circle cx="68.3" cy="964.5" r="3.1"/>
<circle cx="68.3" cy="965.5" r="3.1"/>
<circle cx="68.3" cy="966.5" r="3.1"/>
<circle cx="68.3" cy="967.5" r="3.1"/>
<circle cx="68.3" cy="968.5" r="3.1"/>
<circle cx="68.3" cy="969.6" r="3.1"/>
<circle cx="68.3" cy="970.6" r="3.1"/>
<circle cx="68.3" cy="971.6" r="3.1"/>
<circle cx="68.3" cy="972.6" r="3.1"/>
<circle cx="68.3" cy="973.7" r="3.1"/>
<circle cx="68.3" cy="974.7" r="3.1"/>
<circle cx="68.3" cy="975.7" r="3.1"/>
<circle cx="81.6" cy="915.1" r="3.1"/>
<circle cx="81.6" cy="916.1" r="3.1"/>
<circle cx="81.6" cy="917.2" r="3.1"/>
<circle cx="81.6" cy="918.2" r="3.1"/>
<circle cx="81.6" cy="919.2" r="3.1"/>
<circle cx="81.6" cy="920.3" r="3.1"/>
<circle cx="81.6" cy="921.3" r="3.1"/>
<circle cx="81.6" cy="922.3" r="3.1"/>
<circle cx="81.6" cy="923.4" r="3.1"/>
<circle cx="81.6" cy="924.4" r="3.1"/>
<circle cx="81.6" cy="925.4" r="3.1"/>
<circle cx="81.6" cy="926.5" r="3.1"/>
<circle cx="81.6" cy="927.5" r="3.1"/>
<circle cx="94.7" cy="889.3" r="3.1"/>
<circle cx="94.7" cy="890.4" r="3.1"/>
<circle cx="94.7" cy="891.5" r="3.1"/>
<circle cx="94.7" cy="892.6" r="3.1"/>
<circle cx="94.7" cy="893.7" r="3.1"/>
<circle cx="94.7" cy="894.8" r="3.1"/>
<circle cx="108.2" cy="870.9" r="3.1"/>
<circle cx="108.2" cy="871.7" r="3.1"/>
<circle cx="108.2" cy="872.5" r="3.1"/>
<circle cx="108.2" cy="873.3" r="3.1"/>
<circle cx="108.2" cy="874.1" r="3.1"/>
<circle cx="108.2" cy="874.9" r="3.1"/>
<circle cx="121.6" cy="852.7" r="3.1"/>
<circle cx="121.6" cy="853.7" r="3.1"/>
<circle cx="121.6" cy="854.7" r="3.1"/>
<circle cx="121.6" cy="855.8" r="3.1"/>
<circle cx="121.6" cy="856.8" r="3.1"/>
<circle cx="121.6" cy="857.8" r="3.1"/>
<circle cx="134.9" cy="837.3" r="3.1"/>
<circle cx="134.9" cy="838.1" r="3.1"/>
<circle cx="134.9" cy="838.9" r="3.1"/>
<circle cx="134.9" cy="839.6" r="3.1"/>
<circle cx="134.9" cy="840.4" r="3.1"/>
<circle cx="134.9" cy="841.2" r="3.1"/>
<circle cx="148.1" cy="823.3" r="3.1"/>
<circle cx="148.1" cy="824.1" r="3.1"/>
<circle cx="148.1" cy="824.8" r="3.1"/>
<circle cx="148.1" cy="825.6" r="3.1"/>
<circle cx="148.1" cy="826.3" r="3.1"/>
<circle cx="148.1" cy="827.1" r="3.1"/>
<circle cx="161.4" cy="812.6" r="3.1"/>
<circle cx="161.4" cy="813.5" r="3.1"/>
<circle cx="161.4" cy="814.4" r="3.1"/>
<circle cx="161.4" cy="815.3" r="3.1"/>
<circle cx="161.4" cy="816.2" r="3.1"/>
<circle cx="161.4" cy="817.1" r="3.1"/>
<circle cx="174.6" cy="803.6" r="3.1"/>
<circle cx="174.6" cy="804.4" r="3.1"/>
<circle cx="174.6" cy="805.2" r="3.1"/>
<circle cx="174.6" cy="805.9" r="3.1"/>
<circle cx="174.6" cy="806.7" r="3.1"/>
<circle cx="174.6" cy="807.5" r="3.1"/>
<circle cx="187.9" cy="794.9" r="3.1"/>
<circle cx="187.9" cy="795.4" r="3.1"/>
<circle cx="187.9" cy="795.9" r="3.1"/>
<circle cx="187.9" cy="796.4" r="3.1"/>
<circle cx="187.9" cy="796.9" r="3.1"/>
<circle cx="187.9" cy="797.4" r="3.1"/>
<circle cx="201.1" cy="788.0" r="3.1"/>
<circle cx="201.1" cy="788.5" r="3.1"/>
<circle cx="201.1" cy="788.9" r="3.1"/>
<circle cx="201.1" cy="789.4" r="3.1"/>
<circle cx="201.1" cy="789.8" r="3.1"/>
<circle cx="201.1" cy="790.3" r="3.1"/>
<circle cx="214.3" cy="782.5" r="3.1"/>
<circle cx="214.3" cy="782.8" r="3.1"/>
<circle cx="214.3" cy="783.2" r="3.1"/>
<circle cx="214.3" cy="783.5" r="3.1"/>
<circle cx="214.3" cy="783.9" r="3.1"/>
<circle cx="214.3" cy="784.2" r="3.1"/>
<circle cx="227.7" cy="776.6" r="3.1"/>
<circle cx="227.7" cy="777.1" r="3.1"/>
<circle cx="227.7" cy="777.6" r="3.1"/>
<circle cx="227.7" cy="778.1" r="3.1"/>
<circle cx="227.7" cy="778.6" r="3.1"/>
<circle cx="227.7" cy="779.1" r="3.1"/>
<circle cx="240.8" cy="770.7" r="3.1"/>
<circle cx="240.8" cy="771.2" r="3.1"/>
<circle cx="240.8" cy="771.8" r="3.1"/>
<circle cx="240.8" cy="772.3" r="3.1"/>
<circle cx="240.8" cy="772.9" r="3.1"/>
<circle cx="240.8" cy="773.4" r="3.1"/>
<circle cx="254.0" cy="767.8" r="3.1"/>
<circle cx="254.0" cy="768.2" r="3.1"/>
<circle cx="254.0" cy="768.7" r="3.1"/>
<circle cx="254.0" cy="769.0" r="3.1"/>
<circle cx="267.4" cy="765.0" r="3.1"/>
<circle cx="267.4" cy="765.4" r="3.1"/>
<circle cx="267.4" cy="765.9" r="3.1"/>
<circle cx="267.4" cy="766.7" r="3.1"/>
<circle cx="280.9" cy="762.8" r="3.1"/>
<circle cx="280.9" cy="763.0" r="3.1"/>
<circle cx="280.9" cy="763.2" r="3.1"/>
<circle cx="280.9" cy="764.5" r="3.1"/>
<circle cx="294.0" cy="761.6" r="3.1"/>
<circle cx="294.0" cy="761.6" r="3.1"/>
<circle cx="307.4" cy="760.5" r="3.1"/>
</g>
<rect x="56.40" y="749.20" width="263.00" height="237.50" fill="none" stroke="#000" stroke-width="1.3"/>
<line x1="139.80" y1="986.70" x2="139.80" y2="992.70" stroke="#000" stroke-width="1.3"/>
<text class="t" x="139.80" y="1010.20" text-anchor="middle">0.5</text>
<line x1="224.30" y1="986.70" x2="224.30" y2="992.70" stroke="#000" stroke-width="1.3"/>
<text class="t" x="224.30" y="1010.20" text-anchor="middle">1.0</text>
<line x1="308.70" y1="986.70" x2="308.70" y2="992.70" stroke="#000" stroke-width="1.3"/>
<text class="t" x="308.70" y="1010.20" text-anchor="middle">1.5</text>
<line x1="50.40" y1="981.40" x2="56.40" y2="981.40" stroke="#000" stroke-width="1.3"/>
<text class="t" x="43.90" y="986.80" text-anchor="end">10</text>
<line x1="50.40" y1="934.80" x2="56.40" y2="934.80" stroke="#000" stroke-width="1.3"/>
<text class="t" x="43.90" y="940.20" text-anchor="end">20</text>
<line x1="50.40" y1="888.20" x2="56.40" y2="888.20" stroke="#000" stroke-width="1.3"/>
<text class="t" x="43.90" y="893.60" text-anchor="end">30</text>
<line x1="50.40" y1="841.60" x2="56.40" y2="841.60" stroke="#000" stroke-width="1.3"/>
<text class="t" x="43.90" y="847.00" text-anchor="end">40</text>
<line x1="50.40" y1="795.00" x2="56.40" y2="795.00" stroke="#000" stroke-width="1.3"/>
<text class="t" x="43.90" y="800.40" text-anchor="end">50</text>
<text class="l" y="1032.60"><tspan x="131.40" style="font-size:15.8px">(</tspan><tspan x="137.80" style="font-size:15.8px" letter-spacing="0.9">MMC</tspan><tspan x="183.60" style="font-size:13.9px" letter-spacing="0.8">par,</tspan><tspan x="216.00" style="font-size:15.8px" letter-spacing="0.1">ED)</tspan></text>
<text class="l" x="188.80" y="1051.60" text-anchor="middle" letter-spacing="1.3"><tspan style="font-size:15.8px">(</tspan><tspan style="font-size:13.9px">e</tspan><tspan style="font-size:15.8px">)</tspan></text>
<text class="l" transform="translate(11.90,867.95) rotate(-90)" x="0" y="5.2" text-anchor="middle" letter-spacing="0.46"><tspan style="font-size:15.8px">(V</tspan><tspan style="font-size:13.9px">oxel, </tspan><tspan style="font-size:15.8px">PCA, ED)</tspan></text>
<text class="ti i" x="105.25" y="739.30">ρ</text><text class="ti i" style="font-size:13.3px" x="114.95" y="742.30">s</text><path d="M128.15 732.30H142.05M128.15 736.20H142.05" stroke="#000" stroke-width="1.0"/><text class="ti" x="148.25" y="739.30" letter-spacing="0.55">0.99,</text><text class="ti i" x="192.75" y="739.30">ρ</text><text class="ti i" style="font-size:13.3px" x="202.45" y="742.30">p</text><path d="M216.45 732.30H230.35M216.45 736.20H230.35" stroke="#000" stroke-width="1.0"/><text class="ti" x="236.55" y="739.30" letter-spacing="0.55">0.93</text>
<g fill="#1f77b4" fill-opacity="0.5">
<circle cx="433.4" cy="904.3" r="3.1"/>
<circle cx="433.4" cy="908.4" r="3.1"/>
<circle cx="433.4" cy="910.1" r="3.1"/>
<circle cx="433.4" cy="915.1" r="3.1"/>
<circle cx="433.4" cy="927.6" r="3.1"/>
<circle cx="433.4" cy="929.9" r="3.1"/>
<circle cx="433.4" cy="931.4" r="3.1"/>
<circle cx="433.4" cy="938.4" r="3.1"/>
<circle cx="433.4" cy="939.8" r="3.1"/>
<circle cx="433.4" cy="942.1" r="3.1"/>
<circle cx="433.4" cy="944.7" r="3.1"/>
<circle cx="433.4" cy="950.2" r="3.1"/>
<circle cx="433.4" cy="953.7" r="3.1"/>
<circle cx="433.4" cy="955.1" r="3.1"/>
<circle cx="433.4" cy="960.7" r="3.1"/>
<circle cx="433.4" cy="964.0" r="3.1"/>
<circle cx="433.4" cy="965.1" r="3.1"/>
<circle cx="433.4" cy="971.7" r="3.1"/>
<circle cx="433.4" cy="975.8" r="3.1"/>
<circle cx="446.7" cy="818.3" r="3.1"/>
<circle cx="446.7" cy="825.4" r="3.1"/>
<circle cx="446.7" cy="847.0" r="3.1"/>
<circle cx="446.7" cy="869.8" r="3.1"/>
<circle cx="446.7" cy="882.2" r="3.1"/>
<circle cx="446.7" cy="885.1" r="3.1"/>
<circle cx="446.7" cy="886.9" r="3.1"/>
<circle cx="446.7" cy="889.2" r="3.1"/>
<circle cx="446.7" cy="900.0" r="3.1"/>
<circle cx="446.7" cy="907.8" r="3.1"/>
<circle cx="446.7" cy="911.9" r="3.1"/>
<circle cx="446.7" cy="913.0" r="3.1"/>
<circle cx="446.7" cy="916.3" r="3.1"/>
<circle cx="446.7" cy="931.6" r="3.1"/>
<circle cx="446.7" cy="936.9" r="3.1"/>
<circle cx="446.7" cy="951.2" r="3.1"/>
<circle cx="446.7" cy="951.6" r="3.1"/>
<circle cx="459.9" cy="790.4" r="3.1"/>
<circle cx="459.9" cy="814.9" r="3.1"/>
<circle cx="459.9" cy="843.8" r="3.1"/>
<circle cx="459.9" cy="850.5" r="3.1"/>
<circle cx="459.9" cy="851.4" r="3.1"/>
<circle cx="459.9" cy="855.5" r="3.1"/>
<circle cx="459.9" cy="873.3" r="3.1"/>
<circle cx="459.9" cy="883.4" r="3.1"/>
<circle cx="459.9" cy="883.8" r="3.1"/>
<circle cx="459.9" cy="890.9" r="3.1"/>
<circle cx="459.9" cy="892.7" r="3.1"/>
<circle cx="459.9" cy="897.3" r="3.1"/>
<circle cx="459.9" cy="900.2" r="3.1"/>
<circle cx="459.9" cy="902.0" r="3.1"/>
<circle cx="459.9" cy="914.0" r="3.1"/>
<circle cx="473.0" cy="780.9" r="3.1"/>
<circle cx="473.0" cy="811.1" r="3.1"/>
<circle cx="473.0" cy="840.3" r="3.1"/>
<circle cx="473.0" cy="840.8" r="3.1"/>
<circle cx="473.0" cy="846.2" r="3.1"/>
<circle cx="473.0" cy="863.0" r="3.1"/>
<circle cx="473.0" cy="868.8" r="3.1"/>
<circle cx="473.0" cy="874.7" r="3.1"/>
<circle cx="473.0" cy="877.0" r="3.1"/>
<circle cx="473.0" cy="878.7" r="3.1"/>
<circle cx="473.0" cy="885.3" r="3.1"/>
<circle cx="473.0" cy="885.6" r="3.1"/>
<circle cx="473.0" cy="895.6" r="3.1"/>
<circle cx="473.0" cy="899.7" r="3.1"/>
<circle cx="473.0" cy="903.7" r="3.1"/>
<circle cx="486.4" cy="781.5" r="3.1"/>
<circle cx="486.4" cy="791.4" r="3.1"/>
<circle cx="486.4" cy="851.2" r="3.1"/>
<circle cx="486.4" cy="851.6" r="3.1"/>
<circle cx="486.4" cy="860.1" r="3.1"/>
<circle cx="486.4" cy="864.2" r="3.1"/>
<circle cx="486.4" cy="866.5" r="3.1"/>
<circle cx="486.4" cy="870.0" r="3.1"/>
<circle cx="486.4" cy="880.5" r="3.1"/>
<circle cx="486.4" cy="886.5" r="3.1"/>
<circle cx="486.4" cy="889.2" r="3.1"/>
<circle cx="486.4" cy="892.7" r="3.1"/>
<circle cx="486.4" cy="894.4" r="3.1"/>
<circle cx="486.4" cy="896.7" r="3.1"/>
<circle cx="499.8" cy="767.0" r="3.1"/>
<circle cx="499.8" cy="806.0" r="3.1"/>
<circle cx="499.8" cy="841.4" r="3.1"/>
<circle cx="499.8" cy="844.0" r="3.1"/>
<circle cx="499.8" cy="858.1" r="3.1"/>
<circle cx="499.8" cy="861.5" r="3.1"/>
<circle cx="499.8" cy="869.1" r="3.1"/>
<circle cx="499.8" cy="878.4" r="3.1"/>
<circle cx="499.8" cy="880.1" r="3.1"/>
<circle cx="499.8" cy="882.3" r="3.1"/>
<circle cx="499.8" cy="886.3" r="3.1"/>
<circle cx="499.8" cy="893.2" r="3.1"/>
<circle cx="499.8" cy="899.8" r="3.1"/>
<circle cx="513.0" cy="780.1" r="3.1"/>
<circle cx="513.0" cy="806.6" r="3.1"/>
<circle cx="513.0" cy="851.9" r="3.1"/>
<circle cx="513.0" cy="854.1" r="3.1"/>
<circle cx="513.0" cy="856.7" r="3.1"/>
<circle cx="513.0" cy="871.6" r="3.1"/>
<circle cx="513.0" cy="872.0" r="3.1"/>
<circle cx="513.0" cy="876.1" r="3.1"/>
<circle cx="513.0" cy="882.3" r="3.1"/>
<circle cx="513.0" cy="886.8" r="3.1"/>
<circle cx="513.0" cy="891.3" r="3.1"/>
<circle cx="513.0" cy="892.5" r="3.1"/>
<circle cx="526.1" cy="780.5" r="3.1"/>
<circle cx="526.1" cy="802.3" r="3.1"/>
<circle cx="526.1" cy="839.5" r="3.1"/>
<circle cx="526.1" cy="845.1" r="3.1"/>
<circle cx="526.1" cy="863.1" r="3.1"/>
<circle cx="526.1" cy="866.5" r="3.1"/>
<circle cx="526.1" cy="868.8" r="3.1"/>
<circle cx="526.1" cy="877.2" r="3.1"/>
<circle cx="526.1" cy="881.2" r="3.1"/>
<circle cx="526.1" cy="884.0" r="3.1"/>
<circle cx="526.1" cy="886.3" r="3.1"/>
<circle cx="526.1" cy="889.6" r="3.1"/>
<circle cx="539.6" cy="776.7" r="3.1"/>
<circle cx="539.6" cy="812.1" r="3.1"/>
<circle cx="539.6" cy="844.5" r="3.1"/>
<circle cx="539.6" cy="853.0" r="3.1"/>
<circle cx="539.6" cy="859.8" r="3.1"/>
<circle cx="539.6" cy="861.5" r="3.1"/>
<circle cx="539.6" cy="866.5" r="3.1"/>
<circle cx="539.6" cy="872.2" r="3.1"/>
<circle cx="539.6" cy="872.6" r="3.1"/>
<circle cx="539.6" cy="887.9" r="3.1"/>
<circle cx="539.6" cy="889.6" r="3.1"/>
<circle cx="552.8" cy="785.4" r="3.1"/>
<circle cx="552.8" cy="806.0" r="3.1"/>
<circle cx="552.8" cy="840.9" r="3.1"/>
<circle cx="552.8" cy="843.4" r="3.1"/>
<circle cx="552.8" cy="859.2" r="3.1"/>
<circle cx="552.8" cy="864.3" r="3.1"/>
<circle cx="552.8" cy="868.8" r="3.1"/>
<circle cx="552.8" cy="873.3" r="3.1"/>
<circle cx="552.8" cy="883.4" r="3.1"/>
<circle cx="552.8" cy="883.8" r="3.1"/>
<circle cx="566.0" cy="779.9" r="3.1"/>
<circle cx="566.0" cy="812.0" r="3.1"/>
<circle cx="566.0" cy="825.3" r="3.1"/>
<circle cx="566.0" cy="846.0" r="3.1"/>
<circle cx="566.0" cy="856.0" r="3.1"/>
<circle cx="566.0" cy="870.1" r="3.1"/>
<circle cx="566.0" cy="871.5" r="3.1"/>
<circle cx="566.0" cy="877.9" r="3.1"/>
<circle cx="566.0" cy="887.0" r="3.1"/>
<circle cx="579.2" cy="785.5" r="3.1"/>
<circle cx="579.2" cy="803.0" r="3.1"/>
<circle cx="579.2" cy="843.0" r="3.1"/>
<circle cx="579.2" cy="844.7" r="3.1"/>
<circle cx="579.2" cy="850.6" r="3.1"/>
<circle cx="579.2" cy="865.0" r="3.1"/>
<circle cx="579.2" cy="866.1" r="3.1"/>
<circle cx="579.2" cy="881.7" r="3.1"/>
<circle cx="592.5" cy="777.3" r="3.1"/>
<circle cx="592.5" cy="810.6" r="3.1"/>
<circle cx="592.5" cy="827.6" r="3.1"/>
<circle cx="592.5" cy="840.0" r="3.1"/>
<circle cx="592.5" cy="861.0" r="3.1"/>
<circle cx="592.5" cy="868.4" r="3.1"/>
<circle cx="592.5" cy="872.9" r="3.1"/>
<circle cx="605.8" cy="784.0" r="3.1"/>
<circle cx="605.8" cy="806.9" r="3.1"/>
<circle cx="605.8" cy="830.6" r="3.1"/>
<circle cx="605.8" cy="847.5" r="3.1"/>
<circle cx="605.8" cy="865.2" r="3.1"/>
<circle cx="605.8" cy="870.6" r="3.1"/>
<circle cx="619.1" cy="780.7" r="3.1"/>
<circle cx="619.1" cy="810.6" r="3.1"/>
<circle cx="619.1" cy="828.9" r="3.1"/>
<circle cx="619.1" cy="846.4" r="3.1"/>
<circle cx="619.1" cy="860.5" r="3.1"/>
<circle cx="632.4" cy="783.8" r="3.1"/>
<circle cx="632.4" cy="784.2" r="3.1"/>
<circle cx="632.4" cy="838.8" r="3.1"/>
<circle cx="632.4" cy="860.7" r="3.1"/>
<circle cx="645.6" cy="760.3" r="3.1"/>
<circle cx="645.6" cy="809.7" r="3.1"/>
<circle cx="645.6" cy="840.7" r="3.1"/>
<circle cx="658.9" cy="784.8" r="3.1"/>
<circle cx="658.9" cy="796.1" r="3.1"/>
<circle cx="672.1" cy="773.2" r="3.1"/>
</g>
<rect x="421.30" y="749.20" width="263.00" height="237.50" fill="none" stroke="#000" stroke-width="1.3"/>
<line x1="504.70" y1="986.70" x2="504.70" y2="992.70" stroke="#000" stroke-width="1.3"/>
<text class="t" x="504.70" y="1010.20" text-anchor="middle">0.5</text>
<line x1="589.20" y1="986.70" x2="589.20" y2="992.70" stroke="#000" stroke-width="1.3"/>
<text class="t" x="589.20" y="1010.20" text-anchor="middle">1.0</text>
<line x1="673.60" y1="986.70" x2="673.60" y2="992.70" stroke="#000" stroke-width="1.3"/>
<text class="t" x="673.60" y="1010.20" text-anchor="middle">1.5</text>
<line x1="415.30" y1="967.30" x2="421.30" y2="967.30" stroke="#000" stroke-width="1.3"/>
<text class="t" x="408.80" y="972.70" text-anchor="end">1</text>
<line x1="415.30" y1="927.10" x2="421.30" y2="927.10" stroke="#000" stroke-width="1.3"/>
<text class="t" x="408.80" y="932.50" text-anchor="end">2</text>
<line x1="415.30" y1="886.80" x2="421.30" y2="886.80" stroke="#000" stroke-width="1.3"/>
<text class="t" x="408.80" y="892.20" text-anchor="end">3</text>
<line x1="415.30" y1="846.60" x2="421.30" y2="846.60" stroke="#000" stroke-width="1.3"/>
<text class="t" x="408.80" y="852.00" text-anchor="end">4</text>
<line x1="415.30" y1="806.40" x2="421.30" y2="806.40" stroke="#000" stroke-width="1.3"/>
<text class="t" x="408.80" y="811.80" text-anchor="end">5</text>
<line x1="415.30" y1="766.10" x2="421.30" y2="766.10" stroke="#000" stroke-width="1.3"/>
<text class="t" x="408.80" y="771.50" text-anchor="end">6</text>
<text class="l" y="1032.60"><tspan x="496.30" style="font-size:15.8px">(</tspan><tspan x="502.70" style="font-size:15.8px" letter-spacing="0.9">MMC</tspan><tspan x="548.50" style="font-size:13.9px" letter-spacing="0.8">par,</tspan><tspan x="580.90" style="font-size:15.8px" letter-spacing="0.1">ED)</tspan></text>
<text class="l" x="553.70" y="1051.60" text-anchor="middle" letter-spacing="1.3"><tspan style="font-size:15.8px">(</tspan><tspan style="font-size:13.9px">f</tspan><tspan style="font-size:15.8px">)</tspan></text>
<text class="l" transform="translate(384.60,867.95) rotate(-90)" x="0" y="5.2" text-anchor="middle" letter-spacing="0.76"><tspan style="font-size:15.8px">(V</tspan><tspan style="font-size:13.9px">oxel, </tspan><tspan style="font-size:15.8px">NMF, ED)</tspan></text>
<text class="ti i" x="470.15" y="739.30">ρ</text><text class="ti i" style="font-size:13.3px" x="479.85" y="742.30">s</text><path d="M493.05 732.30H506.95M493.05 736.20H506.95" stroke="#000" stroke-width="1.0"/><text class="ti" x="513.15" y="739.30" letter-spacing="0.55">0.66,</text><text class="ti i" x="557.65" y="739.30">ρ</text><text class="ti i" style="font-size:13.3px" x="567.35" y="742.30">p</text><path d="M581.35 732.30H595.25M581.35 736.20H595.25" stroke="#000" stroke-width="1.0"/><text class="ti" x="601.45" y="739.30" letter-spacing="0.55">0.62</text>
<g fill="#1f77b4" fill-opacity="0.5">
<circle cx="68.4" cy="1123.2" r="3.1"/>
<circle cx="68.4" cy="1180.7" r="3.1"/>
<circle cx="68.4" cy="1195.8" r="3.1"/>
<circle cx="68.4" cy="1203.3" r="3.1"/>
<circle cx="68.4" cy="1203.3" r="3.1"/>
<circle cx="68.4" cy="1213.0" r="3.1"/>
<circle cx="68.4" cy="1219.3" r="3.1"/>
<circle cx="68.4" cy="1237.5" r="3.1"/>
<circle cx="68.4" cy="1247.0" r="3.1"/>
<circle cx="68.4" cy="1259.7" r="3.1"/>
<circle cx="68.4" cy="1266.7" r="3.1"/>
<circle cx="68.4" cy="1275.6" r="3.1"/>
<circle cx="68.4" cy="1283.8" r="3.1"/>
<circle cx="68.4" cy="1316.5" r="3.1"/>
<circle cx="68.4" cy="1320.0" r="3.1"/>
<circle cx="68.4" cy="1322.6" r="3.1"/>
<circle cx="68.4" cy="1325.7" r="3.1"/>
<circle cx="68.4" cy="1327.2" r="3.1"/>
<circle cx="68.4" cy="1331.3" r="3.1"/>
<circle cx="81.7" cy="1126.3" r="3.1"/>
<circle cx="81.7" cy="1127.8" r="3.1"/>
<circle cx="81.7" cy="1129.4" r="3.1"/>
<circle cx="81.7" cy="1159.8" r="3.1"/>
<circle cx="81.7" cy="1182.7" r="3.1"/>
<circle cx="81.7" cy="1201.9" r="3.1"/>
<circle cx="81.7" cy="1203.3" r="3.1"/>
<circle cx="81.7" cy="1206.8" r="3.1"/>
<circle cx="81.7" cy="1243.9" r="3.1"/>
<circle cx="81.7" cy="1249.0" r="3.1"/>
<circle cx="81.7" cy="1259.5" r="3.1"/>
<circle cx="81.7" cy="1267.4" r="3.1"/>
<circle cx="81.7" cy="1268.9" r="3.1"/>
<circle cx="81.7" cy="1283.2" r="3.1"/>
<circle cx="81.7" cy="1284.5" r="3.1"/>
<circle cx="81.7" cy="1292.4" r="3.1"/>
<circle cx="81.7" cy="1321.1" r="3.1"/>
<circle cx="81.7" cy="1323.3" r="3.1"/>
<circle cx="81.7" cy="1325.7" r="3.1"/>
<circle cx="94.9" cy="1160.8" r="3.1"/>
<circle cx="94.9" cy="1177.7" r="3.1"/>
<circle cx="94.9" cy="1194.6" r="3.1"/>
<circle cx="94.9" cy="1213.7" r="3.1"/>
<circle cx="94.9" cy="1219.3" r="3.1"/>
<circle cx="94.9" cy="1244.9" r="3.1"/>
<circle cx="94.9" cy="1246.5" r="3.1"/>
<circle cx="94.9" cy="1248.0" r="3.1"/>
<circle cx="94.9" cy="1256.5" r="3.1"/>
<circle cx="94.9" cy="1266.7" r="3.1"/>
<circle cx="94.9" cy="1272.2" r="3.1"/>
<circle cx="94.9" cy="1275.1" r="3.1"/>
<circle cx="94.9" cy="1277.1" r="3.1"/>
<circle cx="94.9" cy="1278.6" r="3.1"/>
<circle cx="94.9" cy="1281.0" r="3.1"/>
<circle cx="94.9" cy="1316.5" r="3.1"/>
<circle cx="94.9" cy="1324.1" r="3.1"/>
<circle cx="94.9" cy="1330.8" r="3.1"/>
<circle cx="94.9" cy="1332.8" r="3.1"/>
<circle cx="94.9" cy="1334.3" r="3.1"/>
<circle cx="94.9" cy="1336.4" r="3.1"/>
<circle cx="108.0" cy="1142.7" r="3.1"/>
<circle cx="108.0" cy="1144.5" r="3.1"/>
<circle cx="108.0" cy="1153.4" r="3.1"/>
<circle cx="108.0" cy="1153.4" r="3.1"/>
<circle cx="108.0" cy="1176.9" r="3.1"/>
<circle cx="108.0" cy="1221.9" r="3.1"/>
<circle cx="108.0" cy="1221.9" r="3.1"/>
<circle cx="108.0" cy="1267.1" r="3.1"/>
<circle cx="108.0" cy="1282.2" r="3.1"/>
<circle cx="108.0" cy="1292.6" r="3.1"/>
<circle cx="108.0" cy="1315.4" r="3.1"/>
<circle cx="108.0" cy="1317.5" r="3.1"/>
<circle cx="108.0" cy="1321.1" r="3.1"/>
<circle cx="108.0" cy="1322.6" r="3.1"/>
<circle cx="108.0" cy="1328.4" r="3.1"/>
<circle cx="108.0" cy="1329.7" r="3.1"/>
<circle cx="108.0" cy="1331.3" r="3.1"/>
<circle cx="108.0" cy="1333.3" r="3.1"/>
<circle cx="121.3" cy="1156.7" r="3.1"/>
<circle cx="121.3" cy="1191.2" r="3.1"/>
<circle cx="121.3" cy="1202.9" r="3.1"/>
<circle cx="121.3" cy="1202.9" r="3.1"/>
<circle cx="121.3" cy="1214.7" r="3.1"/>
<circle cx="121.3" cy="1226.5" r="3.1"/>
<circle cx="121.3" cy="1228.9" r="3.1"/>
<circle cx="121.3" cy="1230.6" r="3.1"/>
<circle cx="121.3" cy="1256.9" r="3.1"/>
<circle cx="121.3" cy="1258.7" r="3.1"/>
<circle cx="121.3" cy="1273.8" r="3.1"/>
<circle cx="121.3" cy="1275.6" r="3.1"/>
<circle cx="121.3" cy="1277.3" r="3.1"/>
<circle cx="121.3" cy="1318.8" r="3.1"/>
<circle cx="121.3" cy="1329.2" r="3.1"/>
<circle cx="121.3" cy="1330.8" r="3.1"/>
<circle cx="121.3" cy="1332.5" r="3.1"/>
<circle cx="134.7" cy="1126.8" r="3.1"/>
<circle cx="134.7" cy="1154.7" r="3.1"/>
<circle cx="134.7" cy="1215.4" r="3.1"/>
<circle cx="134.7" cy="1220.1" r="3.1"/>
<circle cx="134.7" cy="1224.2" r="3.1"/>
<circle cx="134.7" cy="1229.6" r="3.1"/>
<circle cx="134.7" cy="1230.3" r="3.1"/>
<circle cx="134.7" cy="1231.1" r="3.1"/>
<circle cx="134.7" cy="1240.1" r="3.1"/>
<circle cx="134.7" cy="1252.1" r="3.1"/>
<circle cx="134.7" cy="1266.9" r="3.1"/>
<circle cx="134.7" cy="1283.8" r="3.1"/>
<circle cx="134.7" cy="1327.2" r="3.1"/>
<circle cx="134.7" cy="1328.7" r="3.1"/>
<circle cx="148.0" cy="1159.2" r="3.1"/>
<circle cx="148.0" cy="1166.2" r="3.1"/>
<circle cx="148.0" cy="1184.8" r="3.1"/>
<circle cx="148.0" cy="1189.2" r="3.1"/>
<circle cx="148.0" cy="1202.7" r="3.1"/>
<circle cx="148.0" cy="1228.1" r="3.1"/>
<circle cx="148.0" cy="1229.6" r="3.1"/>
<circle cx="148.0" cy="1231.1" r="3.1"/>
<circle cx="148.0" cy="1235.7" r="3.1"/>
<circle cx="148.0" cy="1237.3" r="3.1"/>
<circle cx="148.0" cy="1238.8" r="3.1"/>
<circle cx="148.0" cy="1279.7" r="3.1"/>
<circle cx="148.0" cy="1279.7" r="3.1"/>
<circle cx="148.0" cy="1323.3" r="3.1"/>
<circle cx="161.3" cy="1139.4" r="3.1"/>
<circle cx="161.3" cy="1159.5" r="3.1"/>
<circle cx="161.3" cy="1190.2" r="3.1"/>
<circle cx="161.3" cy="1212.1" r="3.1"/>
<circle cx="161.3" cy="1221.9" r="3.1"/>
<circle cx="161.3" cy="1254.6" r="3.1"/>
<circle cx="161.3" cy="1259.2" r="3.1"/>
<circle cx="161.3" cy="1270.0" r="3.1"/>
<circle cx="161.3" cy="1275.6" r="3.1"/>
<circle cx="161.3" cy="1289.4" r="3.1"/>
<circle cx="161.3" cy="1318.5" r="3.1"/>
<circle cx="161.3" cy="1327.2" r="3.1"/>
<circle cx="174.6" cy="1149.3" r="3.1"/>
<circle cx="174.6" cy="1180.0" r="3.1"/>
<circle cx="174.6" cy="1186.6" r="3.1"/>
<circle cx="174.6" cy="1186.6" r="3.1"/>
<circle cx="174.6" cy="1217.5" r="3.1"/>
<circle cx="174.6" cy="1235.2" r="3.1"/>
<circle cx="174.6" cy="1258.7" r="3.1"/>
<circle cx="174.6" cy="1263.8" r="3.1"/>
<circle cx="174.6" cy="1272.0" r="3.1"/>
<circle cx="174.6" cy="1283.8" r="3.1"/>
<circle cx="174.6" cy="1329.7" r="3.1"/>
<circle cx="187.8" cy="1165.3" r="3.1"/>
<circle cx="187.8" cy="1232.7" r="3.1"/>
<circle cx="187.8" cy="1247.5" r="3.1"/>
<circle cx="187.8" cy="1280.7" r="3.1"/>
<circle cx="187.8" cy="1284.3" r="3.1"/>
<circle cx="187.8" cy="1297.3" r="3.1"/>
<circle cx="187.8" cy="1297.3" r="3.1"/>
<circle cx="187.8" cy="1312.4" r="3.1"/>
<circle cx="187.8" cy="1318.2" r="3.1"/>
<circle cx="187.8" cy="1322.9" r="3.1"/>
<circle cx="201.0" cy="1155.9" r="3.1"/>
<circle cx="201.0" cy="1208.6" r="3.1"/>
<circle cx="201.0" cy="1211.6" r="3.1"/>
<circle cx="201.0" cy="1266.7" r="3.1"/>
<circle cx="201.0" cy="1325.7" r="3.1"/>
<circle cx="201.0" cy="1328.2" r="3.1"/>
<circle cx="201.0" cy="1331.8" r="3.1"/>
<circle cx="201.0" cy="1333.8" r="3.1"/>
<circle cx="201.0" cy="1335.4" r="3.1"/>
<circle cx="214.3" cy="1164.9" r="3.1"/>
<circle cx="214.3" cy="1183.7" r="3.1"/>
<circle cx="214.3" cy="1187.1" r="3.1"/>
<circle cx="214.3" cy="1200.1" r="3.1"/>
<circle cx="214.3" cy="1214.4" r="3.1"/>
<circle cx="214.3" cy="1263.0" r="3.1"/>
<circle cx="214.3" cy="1272.5" r="3.1"/>
<circle cx="214.3" cy="1301.4" r="3.1"/>
<circle cx="227.6" cy="1243.6" r="3.1"/>
<circle cx="227.6" cy="1249.3" r="3.1"/>
<circle cx="227.6" cy="1260.3" r="3.1"/>
<circle cx="227.6" cy="1268.9" r="3.1"/>
<circle cx="227.6" cy="1276.6" r="3.1"/>
<circle cx="227.6" cy="1295.0" r="3.1"/>
<circle cx="227.6" cy="1317.2" r="3.1"/>
<circle cx="240.9" cy="1143.9" r="3.1"/>
<circle cx="240.9" cy="1273.0" r="3.1"/>
<circle cx="240.9" cy="1317.5" r="3.1"/>
<circle cx="240.9" cy="1317.5" r="3.1"/>
<circle cx="240.9" cy="1321.6" r="3.1"/>
<circle cx="240.9" cy="1330.8" r="3.1"/>
<circle cx="254.1" cy="1225.6" r="3.1"/>
<circle cx="254.1" cy="1265.4" r="3.1"/>
<circle cx="254.1" cy="1274.3" r="3.1"/>
<circle cx="254.1" cy="1280.4" r="3.1"/>
<circle cx="254.1" cy="1338.9" r="3.1"/>
<circle cx="267.5" cy="1218.5" r="3.1"/>
<circle cx="267.5" cy="1223.4" r="3.1"/>
<circle cx="267.5" cy="1284.5" r="3.1"/>
<circle cx="267.5" cy="1323.9" r="3.1"/>
<circle cx="280.8" cy="1216.7" r="3.1"/>
<circle cx="280.8" cy="1256.5" r="3.1"/>
<circle cx="280.8" cy="1281.7" r="3.1"/>
<circle cx="294.0" cy="1290.4" r="3.1"/>
<circle cx="294.0" cy="1326.7" r="3.1"/>
<circle cx="307.3" cy="1274.3" r="3.1"/>
</g>
<rect x="56.40" y="1112.20" width="263.00" height="237.50" fill="none" stroke="#000" stroke-width="1.3"/>
<line x1="139.80" y1="1349.70" x2="139.80" y2="1355.70" stroke="#000" stroke-width="1.3"/>
<text class="t" x="139.80" y="1373.20" text-anchor="middle">0.5</text>
<line x1="224.30" y1="1349.70" x2="224.30" y2="1355.70" stroke="#000" stroke-width="1.3"/>
<text class="t" x="224.30" y="1373.20" text-anchor="middle">1.0</text>
<line x1="308.70" y1="1349.70" x2="308.70" y2="1355.70" stroke="#000" stroke-width="1.3"/>
<text class="t" x="308.70" y="1373.20" text-anchor="middle">1.5</text>
<line x1="50.40" y1="1329.80" x2="56.40" y2="1329.80" stroke="#000" stroke-width="1.3"/>
<text class="t" x="43.90" y="1335.20" text-anchor="end">20</text>
<line x1="50.40" y1="1269.40" x2="56.40" y2="1269.40" stroke="#000" stroke-width="1.3"/>
<text class="t" x="43.90" y="1274.80" text-anchor="end">40</text>
<line x1="50.40" y1="1209.00" x2="56.40" y2="1209.00" stroke="#000" stroke-width="1.3"/>
<text class="t" x="43.90" y="1214.40" text-anchor="end">60</text>
<line x1="50.40" y1="1148.70" x2="56.40" y2="1148.70" stroke="#000" stroke-width="1.3"/>
<text class="t" x="43.90" y="1154.10" text-anchor="end">80</text>
<text class="l" y="1395.60"><tspan x="131.40" style="font-size:15.8px">(</tspan><tspan x="137.80" style="font-size:15.8px" letter-spacing="0.9">MMC</tspan><tspan x="183.60" style="font-size:13.9px" letter-spacing="0.8">par,</tspan><tspan x="216.00" style="font-size:15.8px" letter-spacing="0.1">ED)</tspan></text>
<text class="l" x="188.80" y="1414.60" text-anchor="middle" letter-spacing="1.3"><tspan style="font-size:15.8px">(</tspan><tspan style="font-size:13.9px">g</tspan><tspan style="font-size:15.8px">)</tspan></text>
<text class="l" transform="translate(11.90,1230.95) rotate(-90)" x="0" y="5.2" text-anchor="middle" letter-spacing="0.48"><tspan style="font-size:15.8px">(V</tspan><tspan style="font-size:13.9px">oxel, t-</tspan><tspan style="font-size:15.8px">SNE, ED)</tspan></text>
<text class="ti i" x="89.95" y="1102.30">ρ</text><text class="ti i" style="font-size:13.3px" x="99.65" y="1105.30">s</text><path d="M112.85 1095.30H126.75M112.85 1099.20H126.75" stroke="#000" stroke-width="1.0"/><path d="M133.35 1097.25H147.05" stroke="#000" stroke-width="1.0"/><text class="ti" x="148.25" y="1102.30" letter-spacing="0.55">0.08,</text><text class="ti i" x="192.75" y="1102.30">ρ</text><text class="ti i" style="font-size:13.3px" x="202.45" y="1105.30">p</text><path d="M216.45 1095.30H230.35M216.45 1099.20H230.35" stroke="#000" stroke-width="1.0"/><path d="M236.95 1097.25H250.65" stroke="#000" stroke-width="1.0"/><text class="ti" x="251.85" y="1102.30" letter-spacing="0.55">0.11</text>
<g fill="#1f77b4" fill-opacity="0.5">
<circle cx="433.4" cy="1292.1" r="3.1"/>
<circle cx="433.4" cy="1318.7" r="3.1"/>
<circle cx="433.4" cy="1324.0" r="3.1"/>
<circle cx="433.4" cy="1326.1" r="3.1"/>
<circle cx="433.4" cy="1328.1" r="3.1"/>
<circle cx="433.4" cy="1330.1" r="3.1"/>
<circle cx="433.4" cy="1332.2" r="3.1"/>
<circle cx="433.4" cy="1334.2" r="3.1"/>
<circle cx="433.4" cy="1336.8" r="3.1"/>
<circle cx="446.7" cy="1281.6" r="3.1"/>
<circle cx="446.7" cy="1291.8" r="3.1"/>
<circle cx="446.7" cy="1300.0" r="3.1"/>
<circle cx="446.7" cy="1301.5" r="3.1"/>
<circle cx="446.7" cy="1307.2" r="3.1"/>
<circle cx="446.7" cy="1309.7" r="3.1"/>
<circle cx="446.7" cy="1316.3" r="3.1"/>
<circle cx="446.7" cy="1317.9" r="3.1"/>
<circle cx="446.7" cy="1319.9" r="3.1"/>
<circle cx="446.7" cy="1322.0" r="3.1"/>
<circle cx="446.7" cy="1325.5" r="3.1"/>
<circle cx="446.7" cy="1329.6" r="3.1"/>
<circle cx="446.7" cy="1338.8" r="3.1"/>
<circle cx="459.9" cy="1260.5" r="3.1"/>
<circle cx="459.9" cy="1273.1" r="3.1"/>
<circle cx="459.9" cy="1281.1" r="3.1"/>
<circle cx="459.9" cy="1284.7" r="3.1"/>
<circle cx="459.9" cy="1292.8" r="3.1"/>
<circle cx="459.9" cy="1294.9" r="3.1"/>
<circle cx="459.9" cy="1296.4" r="3.1"/>
<circle cx="459.9" cy="1299.5" r="3.1"/>
<circle cx="459.9" cy="1304.1" r="3.1"/>
<circle cx="459.9" cy="1311.2" r="3.1"/>
<circle cx="459.9" cy="1314.8" r="3.1"/>
<circle cx="459.9" cy="1327.9" r="3.1"/>
<circle cx="473.0" cy="1257.1" r="3.1"/>
<circle cx="473.0" cy="1263.2" r="3.1"/>
<circle cx="473.0" cy="1269.3" r="3.1"/>
<circle cx="473.0" cy="1271.4" r="3.1"/>
<circle cx="473.0" cy="1278.0" r="3.1"/>
<circle cx="473.0" cy="1280.1" r="3.1"/>
<circle cx="473.0" cy="1286.2" r="3.1"/>
<circle cx="473.0" cy="1286.2" r="3.1"/>
<circle cx="473.0" cy="1301.5" r="3.1"/>
<circle cx="473.0" cy="1304.6" r="3.1"/>
<circle cx="473.0" cy="1307.7" r="3.1"/>
<circle cx="473.0" cy="1312.8" r="3.1"/>
<circle cx="473.0" cy="1320.9" r="3.1"/>
<circle cx="486.4" cy="1231.3" r="3.1"/>
<circle cx="486.4" cy="1244.1" r="3.1"/>
<circle cx="486.4" cy="1248.2" r="3.1"/>
<circle cx="486.4" cy="1256.2" r="3.1"/>
<circle cx="486.4" cy="1259.8" r="3.1"/>
<circle cx="486.4" cy="1266.4" r="3.1"/>
<circle cx="486.4" cy="1266.4" r="3.1"/>
<circle cx="486.4" cy="1273.8" r="3.1"/>
<circle cx="486.4" cy="1288.6" r="3.1"/>
<circle cx="486.4" cy="1305.4" r="3.1"/>
<circle cx="486.4" cy="1323.5" r="3.1"/>
<circle cx="486.4" cy="1327.1" r="3.1"/>
<circle cx="499.7" cy="1226.4" r="3.1"/>
<circle cx="499.7" cy="1232.3" r="3.1"/>
<circle cx="499.7" cy="1237.4" r="3.1"/>
<circle cx="499.7" cy="1242.0" r="3.1"/>
<circle cx="499.7" cy="1242.0" r="3.1"/>
<circle cx="499.7" cy="1250.7" r="3.1"/>
<circle cx="499.7" cy="1254.7" r="3.1"/>
<circle cx="499.7" cy="1273.3" r="3.1"/>
<circle cx="499.7" cy="1275.1" r="3.1"/>
<circle cx="499.7" cy="1276.8" r="3.1"/>
<circle cx="499.7" cy="1282.0" r="3.1"/>
<circle cx="499.7" cy="1289.7" r="3.1"/>
<circle cx="499.7" cy="1289.7" r="3.1"/>
<circle cx="499.7" cy="1325.0" r="3.1"/>
<circle cx="513.0" cy="1209.3" r="3.1"/>
<circle cx="513.0" cy="1214.4" r="3.1"/>
<circle cx="513.0" cy="1223.4" r="3.1"/>
<circle cx="513.0" cy="1230.7" r="3.1"/>
<circle cx="513.0" cy="1233.3" r="3.1"/>
<circle cx="513.0" cy="1244.0" r="3.1"/>
<circle cx="513.0" cy="1248.1" r="3.1"/>
<circle cx="513.0" cy="1265.0" r="3.1"/>
<circle cx="513.0" cy="1274.2" r="3.1"/>
<circle cx="513.0" cy="1296.1" r="3.1"/>
<circle cx="513.0" cy="1298.1" r="3.1"/>
<circle cx="513.0" cy="1299.6" r="3.1"/>
<circle cx="526.2" cy="1202.6" r="3.1"/>
<circle cx="526.2" cy="1205.2" r="3.1"/>
<circle cx="526.2" cy="1214.4" r="3.1"/>
<circle cx="526.2" cy="1217.6" r="3.1"/>
<circle cx="526.2" cy="1237.4" r="3.1"/>
<circle cx="526.2" cy="1245.0" r="3.1"/>
<circle cx="526.2" cy="1250.1" r="3.1"/>
<circle cx="526.2" cy="1269.6" r="3.1"/>
<circle cx="526.2" cy="1286.6" r="3.1"/>
<circle cx="526.2" cy="1286.9" r="3.1"/>
<circle cx="526.2" cy="1299.1" r="3.1"/>
<circle cx="539.5" cy="1176.8" r="3.1"/>
<circle cx="539.5" cy="1186.6" r="3.1"/>
<circle cx="539.5" cy="1191.9" r="3.1"/>
<circle cx="539.5" cy="1196.5" r="3.1"/>
<circle cx="539.5" cy="1232.6" r="3.1"/>
<circle cx="539.5" cy="1232.6" r="3.1"/>
<circle cx="539.5" cy="1241.5" r="3.1"/>
<circle cx="539.5" cy="1263.9" r="3.1"/>
<circle cx="539.5" cy="1267.5" r="3.1"/>
<circle cx="539.5" cy="1267.9" r="3.1"/>
<circle cx="539.5" cy="1297.8" r="3.1"/>
<circle cx="552.8" cy="1158.4" r="3.1"/>
<circle cx="552.8" cy="1168.4" r="3.1"/>
<circle cx="552.8" cy="1179.5" r="3.1"/>
<circle cx="552.8" cy="1210.5" r="3.1"/>
<circle cx="552.8" cy="1212.7" r="3.1"/>
<circle cx="552.8" cy="1232.4" r="3.1"/>
<circle cx="552.8" cy="1252.7" r="3.1"/>
<circle cx="552.8" cy="1255.0" r="3.1"/>
<circle cx="552.8" cy="1257.2" r="3.1"/>
<circle cx="552.8" cy="1286.0" r="3.1"/>
<circle cx="566.1" cy="1143.4" r="3.1"/>
<circle cx="566.1" cy="1153.5" r="3.1"/>
<circle cx="566.1" cy="1184.9" r="3.1"/>
<circle cx="566.1" cy="1194.1" r="3.1"/>
<circle cx="566.1" cy="1205.2" r="3.1"/>
<circle cx="566.1" cy="1227.7" r="3.1"/>
<circle cx="566.1" cy="1237.2" r="3.1"/>
<circle cx="566.1" cy="1255.0" r="3.1"/>
<circle cx="566.1" cy="1265.7" r="3.1"/>
<circle cx="579.3" cy="1123.3" r="3.1"/>
<circle cx="579.3" cy="1167.6" r="3.1"/>
<circle cx="579.3" cy="1169.3" r="3.1"/>
<circle cx="579.3" cy="1170.7" r="3.1"/>
<circle cx="579.3" cy="1177.0" r="3.1"/>
<circle cx="579.3" cy="1215.0" r="3.1"/>
<circle cx="579.3" cy="1227.9" r="3.1"/>
<circle cx="579.3" cy="1229.6" r="3.1"/>
<circle cx="579.3" cy="1246.2" r="3.1"/>
<circle cx="592.6" cy="1134.0" r="3.1"/>
<circle cx="592.6" cy="1146.0" r="3.1"/>
<circle cx="592.6" cy="1162.0" r="3.1"/>
<circle cx="592.6" cy="1189.4" r="3.1"/>
<circle cx="592.6" cy="1200.3" r="3.1"/>
<circle cx="592.6" cy="1205.2" r="3.1"/>
<circle cx="592.6" cy="1228.5" r="3.1"/>
<circle cx="605.9" cy="1142.0" r="3.1"/>
<circle cx="605.9" cy="1153.8" r="3.1"/>
<circle cx="605.9" cy="1155.6" r="3.1"/>
<circle cx="605.9" cy="1157.1" r="3.1"/>
<circle cx="605.9" cy="1177.8" r="3.1"/>
<circle cx="605.9" cy="1186.0" r="3.1"/>
<circle cx="605.9" cy="1206.3" r="3.1"/>
<circle cx="619.0" cy="1152.4" r="3.1"/>
<circle cx="619.0" cy="1166.1" r="3.1"/>
<circle cx="619.0" cy="1166.1" r="3.1"/>
<circle cx="619.0" cy="1178.2" r="3.1"/>
<circle cx="632.3" cy="1147.8" r="3.1"/>
<circle cx="632.3" cy="1176.1" r="3.1"/>
<circle cx="632.3" cy="1176.1" r="3.1"/>
<circle cx="632.3" cy="1184.9" r="3.1"/>
<circle cx="645.6" cy="1161.6" r="3.1"/>
<circle cx="645.6" cy="1185.1" r="3.1"/>
<circle cx="645.6" cy="1199.3" r="3.1"/>
<circle cx="658.9" cy="1183.1" r="3.1"/>
<circle cx="658.9" cy="1209.0" r="3.1"/>
<circle cx="672.1" cy="1196.0" r="3.1"/>
</g>
<rect x="421.30" y="1112.20" width="263.00" height="237.50" fill="none" stroke="#000" stroke-width="1.3"/>
<line x1="504.70" y1="1349.70" x2="504.70" y2="1355.70" stroke="#000" stroke-width="1.3"/>
<text class="t" x="504.70" y="1373.20" text-anchor="middle">0.5</text>
<line x1="589.20" y1="1349.70" x2="589.20" y2="1355.70" stroke="#000" stroke-width="1.3"/>
<text class="t" x="589.20" y="1373.20" text-anchor="middle">1.0</text>
<line x1="673.60" y1="1349.70" x2="673.60" y2="1355.70" stroke="#000" stroke-width="1.3"/>
<text class="t" x="673.60" y="1373.20" text-anchor="middle">1.5</text>
<line x1="415.30" y1="1309.40" x2="421.30" y2="1309.40" stroke="#000" stroke-width="1.3"/>
<text class="t" x="408.80" y="1314.80" text-anchor="end">1</text>
<line x1="415.30" y1="1261.20" x2="421.30" y2="1261.20" stroke="#000" stroke-width="1.3"/>
<text class="t" x="408.80" y="1266.60" text-anchor="end">2</text>
<line x1="415.30" y1="1213.00" x2="421.30" y2="1213.00" stroke="#000" stroke-width="1.3"/>
<text class="t" x="408.80" y="1218.40" text-anchor="end">3</text>
<line x1="415.30" y1="1164.70" x2="421.30" y2="1164.70" stroke="#000" stroke-width="1.3"/>
<text class="t" x="408.80" y="1170.10" text-anchor="end">4</text>
<line x1="415.30" y1="1116.50" x2="421.30" y2="1116.50" stroke="#000" stroke-width="1.3"/>
<text class="t" x="408.80" y="1121.90" text-anchor="end">5</text>
<text class="l" y="1395.60"><tspan x="496.30" style="font-size:15.8px">(</tspan><tspan x="502.70" style="font-size:15.8px" letter-spacing="0.9">MMC</tspan><tspan x="548.50" style="font-size:13.9px" letter-spacing="0.8">par,</tspan><tspan x="580.90" style="font-size:15.8px" letter-spacing="0.1">ED)</tspan></text>
<text class="l" x="553.70" y="1414.60" text-anchor="middle" letter-spacing="1.3"><tspan style="font-size:15.8px">(</tspan><tspan style="font-size:13.9px">h</tspan><tspan style="font-size:15.8px">)</tspan></text>
<text class="l" transform="translate(384.60,1230.95) rotate(-90)" x="0" y="5.2" text-anchor="middle" letter-spacing="0.68"><tspan style="font-size:15.8px">(V</tspan><tspan style="font-size:13.9px">oxel, </tspan><tspan style="font-size:15.8px">UMAP, ED)</tspan></text>
<text class="ti i" x="470.15" y="1102.30">ρ</text><text class="ti i" style="font-size:13.3px" x="479.85" y="1105.30">s</text><path d="M493.05 1095.30H506.95M493.05 1099.20H506.95" stroke="#000" stroke-width="1.0"/><text class="ti" x="513.15" y="1102.30" letter-spacing="0.55">0.87,</text><text class="ti i" x="557.65" y="1102.30">ρ</text><text class="ti i" style="font-size:13.3px" x="567.35" y="1105.30">p</text><path d="M581.35 1095.30H595.25M581.35 1099.20H595.25" stroke="#000" stroke-width="1.0"/><text class="ti" x="601.45" y="1102.30" letter-spacing="0.55">0.86</text>
</svg></body></html>
